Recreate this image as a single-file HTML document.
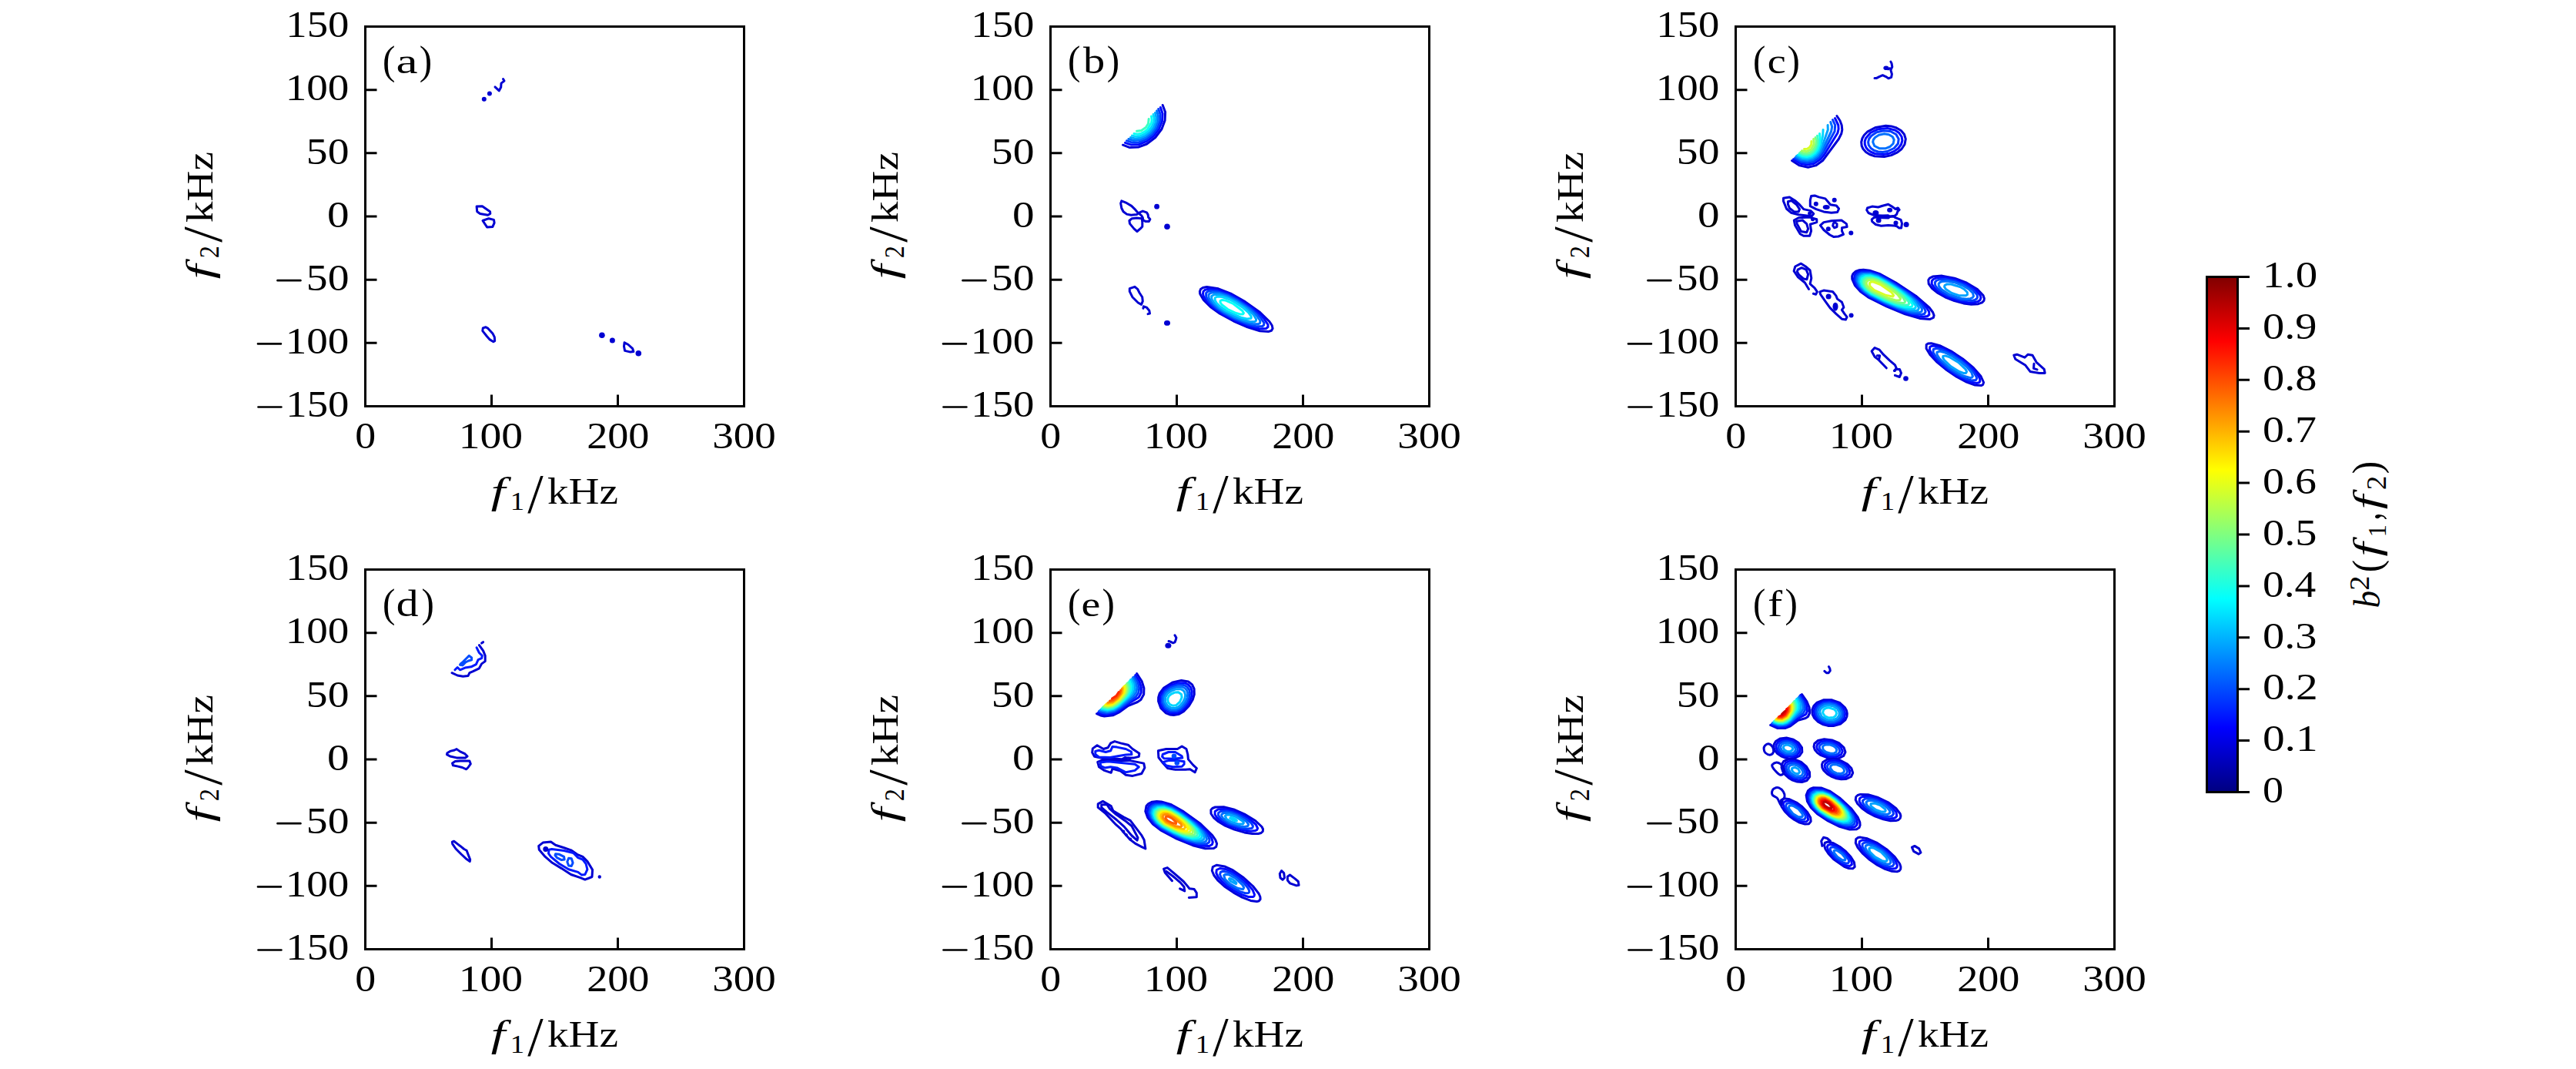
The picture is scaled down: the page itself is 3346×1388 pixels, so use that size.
<!DOCTYPE html><html><head><meta charset="utf-8"><style>html,body{margin:0;padding:0;background:#fff;overflow:hidden;}svg{display:block;}text{font-family:"Liberation Serif",serif;fill:#000;}</style></head><body>
<svg width="3346" height="1388" viewBox="0 0 3346 1388">
<defs><linearGradient id="jet" x1="0" y1="1" x2="0" y2="0"><stop offset="0" stop-color="#000080"/><stop offset="0.125" stop-color="#0000ff"/><stop offset="0.375" stop-color="#00ffff"/><stop offset="0.625" stop-color="#ffff00"/><stop offset="0.875" stop-color="#ff0000"/><stop offset="1" stop-color="#800000"/></linearGradient></defs>
<rect width="100%" height="100%" fill="#fff"/>
<g fill="none" stroke-width="3.0" stroke-linejoin="round" stroke-linecap="round"><path d="M1510.2,136.5L1513.6,145.5L1513.1,156.5L1509.0,167.5L1500.7,178.5L1489.5,187.0L1478.5,191.1L1467.5,191.6L1458.5,188.2" stroke="#0000d6"/><path d="M1507.4,139.5L1510.1,147.5L1509.5,157.5L1505.4,167.5L1498.5,176.5L1489.5,183.4L1479.5,187.5L1469.5,188.1L1461.5,185.4" stroke="#000aff"/><path d="M1504.7,141.5L1507.1,148.5L1506.7,157.5L1503.1,166.5L1497.0,174.5L1488.5,181.1L1479.5,184.7L1470.5,185.1L1463.5,182.7" stroke="#003dff"/><path d="M1502.5,143.9L1504.5,150.5L1504.0,157.5L1500.9,165.5L1495.5,172.8L1488.5,178.4L1480.5,181.8L1472.5,182.5L1465.9,180.5" stroke="#0070ff"/><path d="M1500.5,146.5L1501.9,152.5L1501.3,158.5L1498.3,165.5L1493.6,171.5L1487.5,176.3L1480.5,179.3L1474.5,179.9L1468.5,178.5" stroke="#00a3ff"/><path d="M1498.1,148.5L1499.2,153.5L1498.7,158.5L1496.2,164.5L1492.4,169.5L1487.5,173.6L1481.5,176.4L1475.5,177.2L1470.5,176.1" stroke="#00d6ff"/><path d="M1495.5,151.0L1496.2,155.5L1495.5,159.5L1490.5,167.8L1486.5,171.1L1481.5,173.5L1477.5,174.2L1473.0,173.5" stroke="#0afff5"/><path d="M1492.2,154.5L1491.5,160.5L1488.3,165.5L1482.5,169.5L1476.5,170.2" stroke="#3dffc2"/><path d="M1647.5,430.6L1636.5,429.7L1620.5,424.8L1602.5,417.0L1584.5,407.3L1572.3,398.5L1563.3,389.5L1558.7,381.5L1558.4,378.5L1559.5,375.5L1562.5,373.4L1567.5,372.5L1582.5,374.8L1598.5,381.1L1617.5,391.9L1636.6,405.5L1648.9,417.5L1652.2,422.5L1653.1,426.5L1651.5,429.3L1647.5,430.6Z" stroke="#0000d6"/><path d="M1644.5,426.6L1636.5,427.0L1623.5,423.8L1606.5,417.1L1588.5,407.8L1576.5,399.7L1567.8,391.5L1563.2,384.5L1562.5,381.5L1563.0,378.5L1565.0,376.5L1568.5,375.3L1579.5,376.0L1594.5,381.0L1609.5,388.9L1627.5,400.8L1641.0,412.5L1647.0,421.5L1647.0,424.5L1644.5,426.6Z" stroke="#000aff"/><path d="M1639.5,423.7L1631.5,423.8L1619.5,420.7L1604.5,414.6L1589.5,406.8L1578.8,399.5L1571.2,392.5L1566.7,385.5L1566.6,380.5L1568.5,378.6L1571.5,377.6L1581.5,378.3L1594.5,382.6L1608.5,389.9L1625.8,401.5L1637.0,411.5L1642.0,419.5L1641.5,422.3L1639.5,423.7Z" stroke="#003dff"/><path d="M1634.5,420.8L1627.5,420.8L1616.5,417.9L1603.5,412.6L1590.0,405.5L1581.2,399.5L1573.7,392.5L1570.0,386.5L1570.0,382.5L1571.5,380.9L1574.5,379.8L1583.5,380.5L1594.5,384.1L1606.8,390.5L1621.9,400.5L1632.2,409.5L1636.9,416.5L1636.6,419.5L1634.5,420.8Z" stroke="#0070ff"/><path d="M1629.5,417.7L1623.5,417.7L1614.5,415.3L1602.6,410.5L1591.1,404.5L1583.7,399.5L1577.2,393.5L1573.9,388.5L1573.7,384.5L1577.5,382.2L1584.5,382.6L1593.8,385.5L1605.6,391.5L1619.1,400.5L1628.1,408.5L1631.7,414.5L1631.4,416.5L1629.5,417.7Z" stroke="#00a3ff"/><path d="M1624.5,413.6L1620.5,414.1L1612.8,412.5L1592.8,403.5L1585.5,398.5L1580.3,393.5L1578.0,389.5L1578.3,386.5L1581.5,385.0L1587.6,385.5L1596.3,388.5L1603.9,392.5L1614.6,399.5L1621.5,405.5L1625.1,410.5L1625.3,412.5L1624.5,413.6Z" stroke="#00d6ff"/><path d="M1614.5,408.0L1611.5,408.1L1605.5,406.5L1594.7,401.5L1586.9,395.5L1585.0,392.5L1585.1,390.5L1587.5,389.4L1591.5,389.9L1602.0,394.5L1613.7,403.5L1615.5,406.5L1614.5,408.0Z" stroke="#0afff5"/><path d="M2385.9,150.5L2389.9,156.5L2392.2,162.5L2392.8,168.5L2391.8,173.5L2388.3,180.5L2367.5,208.6L2358.5,214.9L2348.5,217.2L2337.5,214.9L2327.5,208.5" stroke="#0000d6"/><path d="M2383.5,153.5L2387.8,162.5L2388.1,167.5L2387.0,172.5L2369.8,200.5L2364.9,206.5L2356.5,212.2L2347.5,214.0L2338.5,212.2L2329.5,206.8" stroke="#000aff"/><path d="M2380.5,155.5L2383.7,162.5L2383.1,170.5L2368.4,197.5L2363.2,204.5L2355.5,209.8L2347.5,211.5L2339.5,210.2L2331.3,205.5" stroke="#003dff"/><path d="M2377.8,158.5L2379.7,164.5L2378.6,170.5L2366.9,195.5L2361.5,202.9L2354.5,207.7L2347.5,209.3L2339.5,208.0L2332.5,204.0" stroke="#0070ff"/><path d="M2374.1,162.5L2374.3,168.5L2367.1,189.5L2363.8,196.5L2360.0,201.5L2354.3,205.5L2347.5,207.3L2340.5,206.3L2333.5,202.6" stroke="#00a3ff"/><path d="M2368.1,168.5L2367.6,176.5L2365.1,188.5L2362.1,195.5L2358.5,200.1L2353.5,203.7L2347.5,205.3L2341.5,204.7L2335.0,201.5" stroke="#00d6ff"/><path d="M2363.5,173.5L2364.2,179.5L2363.2,187.5L2360.9,193.5L2357.3,198.5L2352.5,202.0L2347.5,203.4L2341.5,202.8L2336.5,200.5" stroke="#0afff5"/><path d="M2360.5,176.2L2361.6,181.5L2361.0,187.5L2358.6,193.5L2355.5,197.4L2351.5,200.2L2346.5,201.5L2341.5,200.9L2337.5,198.9" stroke="#3dffc2"/><path d="M2358.1,178.5L2359.1,182.5L2358.7,187.5L2357.2,191.5L2354.3,195.5L2350.5,198.2L2346.5,199.3L2342.5,199.0L2338.9,197.5" stroke="#70ff8f"/><path d="M2355.7,180.5L2356.1,187.5L2352.5,193.8L2346.5,196.8L2340.5,195.7" stroke="#a3ff5c"/><path d="M2352.9,183.5L2352.8,187.5L2350.5,191.3L2347.5,193.2L2343.5,193.5" stroke="#d6ff29"/><path d="M2447.5,203.5L2434.5,202.7L2428.5,200.5L2423.7,197.5L2420.1,193.5L2418.2,189.5L2417.7,184.5L2419.0,179.5L2421.3,175.5L2425.5,171.2L2436.5,165.4L2449.5,163.3L2456.5,163.9L2462.5,165.6L2469.3,169.5L2473.5,174.5L2475.3,180.5L2474.0,187.5L2470.0,193.5L2464.5,197.9L2456.5,201.6L2447.5,203.5Z" stroke="#0000d6"/><path d="M2446.5,200.5L2435.5,199.5L2430.5,197.5L2426.5,194.7L2423.8,191.5L2422.3,187.5L2422.2,183.5L2423.5,179.5L2429.5,172.5L2439.5,167.7L2451.5,166.5L2461.5,169.0L2466.7,172.5L2470.1,177.5L2470.9,182.5L2469.5,187.5L2465.8,192.5L2460.5,196.4L2453.5,199.3L2446.5,200.5Z" stroke="#000aff"/><path d="M2451.5,196.5L2445.5,197.4L2439.5,197.0L2434.5,195.4L2430.1,192.5L2427.3,188.5L2426.6,184.5L2427.6,180.5L2430.5,176.5L2437.5,171.8L2446.5,169.7L2455.5,170.5L2462.9,174.5L2466.2,180.5L2465.4,186.5L2460.2,192.5L2451.5,196.5Z" stroke="#003dff"/><path d="M2449.5,192.7L2441.5,192.8L2434.8,189.5L2432.7,184.5L2433.3,181.5L2435.5,178.5L2440.5,175.3L2447.5,173.8L2453.5,174.7L2458.2,177.5L2460.2,181.5L2459.1,186.5L2454.9,190.5L2449.5,192.7Z" stroke="#0070ff"/><path d="M2506.5,414.6L2493.5,413.4L2474.5,407.8L2450.5,397.9L2426.5,385.8L2416.5,378.5L2409.3,370.5L2405.8,362.5L2405.7,358.5L2406.9,355.5L2410.1,352.5L2414.5,350.8L2420.5,350.2L2428.5,351.2L2442.5,356.0L2462.5,367.0L2488.5,384.2L2506.1,399.5L2510.6,405.5L2512.1,409.5L2511.3,412.5L2506.5,414.6Z" stroke="#0000d6"/><path d="M2503.5,410.6L2498.5,411.3L2492.5,410.8L2474.5,406.0L2452.5,397.3L2429.5,386.0L2419.5,379.2L2412.1,371.5L2408.3,363.5L2409.0,357.5L2411.5,354.6L2414.5,353.1L2419.5,352.1L2425.5,352.3L2438.5,355.7L2452.5,362.9L2478.5,379.0L2496.8,393.5L2502.4,399.5L2505.6,404.5L2505.9,408.5L2503.5,410.6Z" stroke="#000aff"/><path d="M2495.5,408.5L2483.5,407.0L2467.5,402.1L2448.5,394.2L2428.5,384.1L2419.4,377.5L2413.2,370.5L2410.3,363.5L2411.1,358.5L2413.5,355.8L2417.5,354.1L2428.5,354.0L2440.5,357.8L2457.5,367.0L2480.5,382.1L2496.0,395.5L2499.8,400.5L2501.2,404.5L2499.6,407.5L2495.5,408.5Z" stroke="#003dff"/><path d="M2493.5,405.7L2483.5,405.3L2468.5,401.1L2450.5,393.9L2429.5,383.5L2421.5,377.9L2415.5,371.5L2412.3,364.5L2412.9,359.5L2415.5,356.7L2418.5,355.4L2428.5,355.2L2439.5,358.5L2453.5,365.9L2474.8,379.5L2489.6,391.5L2494.8,397.5L2496.7,401.5L2496.0,404.5L2493.5,405.7Z" stroke="#0070ff"/><path d="M2488.5,403.6L2478.5,402.6L2464.5,398.4L2447.5,391.4L2429.7,382.5L2422.6,377.5L2417.0,371.5L2414.1,365.5L2414.6,360.5L2416.5,358.3L2420.4,356.5L2429.5,356.5L2439.5,359.5L2453.5,367.0L2472.9,379.5L2487.3,391.5L2492.5,399.5L2491.5,402.5L2488.5,403.6Z" stroke="#00a3ff"/><path d="M2486.5,400.8L2478.5,400.9L2465.5,397.5L2448.5,390.8L2430.5,381.9L2423.5,376.9L2418.5,371.5L2415.8,365.5L2416.5,361.1L2418.5,359.0L2421.5,357.8L2429.5,357.6L2438.5,360.2L2450.5,366.4L2468.2,377.5L2482.0,388.5L2488.1,396.5L2488.2,399.5L2486.5,400.8Z" stroke="#00d6ff"/><path d="M2481.5,398.7L2473.5,398.3L2460.5,394.5L2445.8,388.5L2430.5,380.8L2423.5,375.5L2419.3,370.5L2417.5,365.5L2418.5,361.6L2423.5,358.8L2431.5,359.1L2439.5,361.6L2452.2,368.5L2467.6,378.5L2479.6,388.5L2484.2,395.5L2483.8,397.5L2481.5,398.7Z" stroke="#0afff5"/><path d="M2478.5,395.8L2472.5,396.2L2461.4,393.5L2448.4,388.5L2432.0,380.5L2426.2,376.5L2421.6,371.5L2419.7,367.5L2419.8,363.5L2423.4,360.5L2429.5,360.0L2436.5,361.6L2444.8,365.5L2461.3,375.5L2473.0,384.5L2479.1,391.5L2479.7,394.5L2478.5,395.8Z" stroke="#3dffc2"/><path d="M2471.5,393.6L2463.5,392.5L2454.5,389.6L2432.5,379.5L2427.0,375.5L2423.4,371.5L2421.6,367.5L2421.9,364.5L2425.5,361.8L2432.5,361.7L2439.5,364.0L2449.5,369.5L2461.8,377.5L2471.3,385.5L2474.8,391.5L2473.5,393.2L2471.5,393.6Z" stroke="#70ff8f"/><path d="M2467.5,389.8L2462.5,389.9L2453.6,387.5L2433.6,378.5L2429.2,375.5L2425.6,371.5L2424.2,368.5L2424.6,365.5L2427.5,363.5L2432.5,363.4L2438.5,365.1L2445.0,368.5L2456.2,375.5L2465.0,382.5L2468.7,387.5L2467.5,389.8Z" stroke="#a3ff5c"/><path d="M2458.5,384.9L2450.0,383.5L2434.3,376.5L2428.9,371.5L2428.4,367.5L2430.5,366.1L2433.5,366.0L2442.6,369.5L2456.9,379.5L2459.7,383.5L2458.5,384.9Z" stroke="#d6ff29"/><path d="M2569.5,394.7L2560.5,395.2L2550.5,393.9L2538.5,390.6L2526.5,385.8L2517.1,380.5L2509.6,374.5L2505.2,368.5L2504.8,363.5L2506.5,361.1L2510.5,359.1L2522.5,358.1L2538.5,361.1L2554.5,367.2L2568.4,375.5L2576.0,383.5L2577.4,387.5L2576.9,390.5L2574.5,392.9L2569.5,394.7Z" stroke="#0000d6"/><path d="M2565.5,392.6L2557.5,392.9L2548.5,391.6L2537.5,388.5L2527.5,384.3L2518.5,379.0L2512.2,373.5L2509.1,368.5L2509.4,364.5L2511.5,362.4L2515.5,360.8L2526.5,360.5L2540.5,363.5L2554.5,369.2L2566.1,376.5L2572.2,383.5L2573.0,386.5L2572.0,389.5L2569.2,391.5L2565.5,392.6Z" stroke="#000aff"/><path d="M2561.5,390.5L2547.3,389.5L2529.5,383.4L2522.7,379.5L2516.5,374.5L2513.7,370.5L2513.4,366.5L2515.1,364.5L2518.5,363.0L2527.5,362.6L2540.5,365.3L2552.5,370.1L2562.6,376.5L2567.9,382.5L2568.6,385.5L2567.9,387.5L2565.3,389.5L2561.5,390.5Z" stroke="#003dff"/><path d="M2559.5,387.7L2554.5,388.2L2547.5,387.5L2532.2,382.5L2521.4,375.5L2518.4,371.5L2518.1,368.5L2519.8,366.5L2522.1,365.5L2529.5,365.1L2538.5,366.7L2548.9,370.5L2557.4,375.5L2562.5,380.5L2563.5,384.5L2562.1,386.5L2559.5,387.7Z" stroke="#0070ff"/><path d="M2553.5,383.8L2544.5,383.7L2535.0,380.5L2527.5,375.5L2525.6,372.5L2526.0,370.5L2528.5,369.1L2533.5,368.9L2546.0,372.5L2551.3,375.5L2555.3,379.5L2555.5,382.5L2553.5,383.8Z" stroke="#00a3ff"/><path d="M2573.5,500.6L2565.5,500.1L2554.5,496.1L2541.5,489.2L2527.5,479.7L2515.3,469.5L2506.9,460.5L2502.1,452.5L2502.2,447.5L2504.5,446.0L2508.5,445.7L2519.5,448.7L2534.5,456.1L2549.5,466.0L2563.3,477.5L2573.0,488.5L2576.6,496.5L2575.6,499.5L2573.5,500.6Z" stroke="#0000d6"/><path d="M2567.5,497.5L2559.5,496.0L2549.5,491.8L2538.5,485.6L2527.5,477.8L2517.7,469.5L2510.4,461.5L2506.5,454.5L2506.8,450.5L2508.5,449.4L2512.5,449.1L2523.5,452.4L2536.5,459.1L2550.5,468.6L2562.9,479.5L2570.1,488.5L2571.8,492.5L2571.7,495.5L2570.5,496.8L2567.5,497.5Z" stroke="#000aff"/><path d="M2566.5,493.5L2561.5,494.1L2552.8,491.5L2542.9,486.5L2532.1,479.5L2522.2,471.5L2514.6,463.5L2511.0,457.5L2511.3,453.5L2515.5,452.3L2523.9,454.5L2534.5,459.6L2546.5,467.4L2556.4,475.5L2563.9,483.5L2567.3,489.5L2567.6,491.5L2566.5,493.5Z" stroke="#003dff"/><path d="M2559.5,490.6L2548.5,487.5L2532.1,477.5L2519.2,465.5L2516.1,460.5L2515.9,457.5L2519.5,456.1L2526.5,457.8L2536.1,462.5L2546.6,469.5L2554.8,476.5L2560.8,483.5L2562.5,488.5L2561.5,490.0L2559.5,490.6Z" stroke="#0070ff"/><path d="M2553.5,484.6L2550.3,484.5L2544.9,482.5L2533.7,475.5L2525.4,467.5L2523.7,464.5L2523.8,462.5L2526.5,461.9L2532.0,463.5L2543.7,470.5L2553.1,479.5L2554.6,482.5L2553.5,484.6Z" stroke="#00a3ff"/><path d="M1476.6,874.5L1483.1,884.5L1485.9,893.5L1485.7,901.5L1481.9,908.5L1477.5,911.5L1465.5,916.4L1453.5,925.0L1445.5,928.8L1434.5,930.0L1429.5,929.0L1424.5,926.7" stroke="#0000d6"/><path d="M1474.8,876.5L1479.9,884.5L1482.4,892.5L1482.3,899.5L1479.1,905.5L1464.5,914.3L1452.5,923.3L1446.5,926.2L1436.5,927.9L1431.5,927.2L1426.5,925.2" stroke="#000aff"/><path d="M1473.5,878.5L1478.1,886.5L1479.7,893.5L1478.8,899.5L1475.5,904.4L1453.5,920.7L1447.5,924.1L1437.5,926.2L1432.5,925.6L1427.5,923.6" stroke="#003dff"/><path d="M1471.6,879.5L1475.1,885.5L1476.9,892.5L1476.0,898.5L1472.5,903.5L1454.1,918.5L1447.5,922.5L1437.5,924.7L1428.7,922.5" stroke="#0070ff"/><path d="M1470.4,881.5L1473.4,887.5L1474.3,893.5L1473.0,898.5L1469.3,903.5L1454.5,916.6L1447.5,921.2L1438.5,923.3L1429.9,921.5" stroke="#00a3ff"/><path d="M1468.5,882.5L1471.3,888.5L1471.6,894.5L1469.8,899.5L1464.9,905.5L1453.5,916.0L1446.5,920.3L1438.5,922.1L1430.9,920.5" stroke="#00d6ff"/><path d="M1467.2,884.5L1469.3,890.5L1468.8,896.5L1465.5,902.5L1459.0,909.5L1451.5,916.2L1445.5,919.5L1438.5,920.9L1431.7,919.5" stroke="#0afff5"/><path d="M1465.5,886.1L1467.2,891.5L1466.4,897.5L1462.9,903.5L1456.5,910.5L1450.5,915.6L1444.5,918.7L1438.5,919.8L1432.5,918.5" stroke="#3dffc2"/><path d="M1463.8,887.5L1465.3,892.5L1464.6,897.5L1462.1,902.5L1456.0,909.5L1450.2,914.5L1444.5,917.6L1438.5,918.6L1433.5,917.6" stroke="#70ff8f"/><path d="M1462.5,889.3L1463.5,893.5L1462.7,898.5L1459.8,903.5L1454.5,909.5L1449.5,913.7L1444.5,916.4L1439.5,917.4L1434.5,916.7" stroke="#a3ff5c"/><path d="M1461.1,890.5L1461.9,894.5L1460.7,899.5L1453.5,909.0L1444.5,915.2L1439.5,916.3L1435.5,915.7" stroke="#d6ff29"/><path d="M1459.8,891.5L1460.3,895.5L1459.3,899.5L1453.5,907.5L1444.5,914.0L1440.5,915.0L1436.5,914.7" stroke="#fff500"/><path d="M1458.5,892.9L1457.8,899.5L1452.5,906.9L1444.8,912.5L1437.9,913.5" stroke="#ffc200"/><path d="M1457.2,894.5L1455.8,900.5L1451.5,906.2L1445.5,910.7L1439.5,912.1" stroke="#ff8f00"/><path d="M1455.5,896.5L1454.2,900.5L1450.5,905.2L1446.2,908.5L1441.5,910.2" stroke="#ff5c00"/><path d="M1453.2,898.5L1449.9,903.5L1444.5,907.1" stroke="#ff2900"/><path d="M1524.5,928.5L1519.5,927.9L1514.5,925.8L1507.8,919.5L1504.6,910.5L1504.7,905.5L1506.2,900.5L1511.5,893.3L1523.5,885.9L1534.5,883.4L1543.5,885.0L1548.5,888.9L1551.1,894.5L1551.3,901.5L1549.2,908.5L1544.4,916.5L1537.5,923.7L1531.5,927.2L1524.5,928.5Z" stroke="#0000d6"/><path d="M1529.5,925.5L1520.5,925.8L1512.4,921.5L1509.2,917.5L1507.5,913.5L1507.2,904.5L1511.5,896.5L1519.5,890.5L1529.5,886.7L1538.5,886.7L1543.5,888.9L1546.7,892.5L1548.3,897.5L1548.0,903.5L1545.4,910.5L1541.4,916.5L1535.4,922.5L1529.5,925.5Z" stroke="#000aff"/><path d="M1528.5,923.6L1520.5,923.6L1513.5,919.7L1509.4,912.5L1509.4,904.5L1513.3,897.5L1520.5,892.4L1529.5,889.1L1537.5,889.4L1541.7,891.5L1544.7,895.5L1545.7,900.5L1544.9,905.5L1542.3,911.5L1538.5,916.7L1533.5,921.3L1528.5,923.6Z" stroke="#003dff"/><path d="M1527.5,921.7L1520.5,921.5L1514.5,917.7L1511.3,911.5L1511.5,904.5L1514.5,899.3L1521.5,894.3L1528.5,891.8L1535.5,891.9L1539.1,893.5L1541.7,896.5L1542.8,900.5L1542.3,905.5L1540.3,910.5L1536.5,915.7L1532.5,919.5L1527.5,921.7Z" stroke="#0070ff"/><path d="M1526.5,919.5L1521.5,919.3L1516.5,916.4L1513.7,911.5L1513.7,905.5L1516.5,900.6L1521.5,897.0L1527.5,894.7L1533.5,894.7L1536.5,896.1L1538.6,898.5L1539.7,902.5L1539.1,906.5L1536.7,911.5L1533.5,915.5L1530.5,918.0L1526.5,919.5Z" stroke="#00a3ff"/><path d="M1527.5,915.8L1523.5,916.3L1519.5,914.6L1517.2,911.5L1516.7,907.5L1518.4,903.5L1521.5,901.0L1526.5,898.9L1530.5,898.7L1534.5,901.5L1535.1,905.5L1532.5,911.5L1527.5,915.8Z" stroke="#00d6ff"/><path d="M1576.5,1101.6L1565.5,1101.8L1549.5,1097.7L1528.5,1089.1L1507.5,1077.9L1497.5,1070.1L1490.7,1061.5L1487.8,1053.5L1489.0,1046.5L1491.7,1043.5L1496.5,1041.2L1502.5,1040.4L1508.5,1040.9L1521.5,1044.8L1537.5,1053.9L1559.5,1069.7L1574.7,1084.5L1578.8,1090.5L1580.6,1095.5L1579.7,1099.5L1576.5,1101.6Z" stroke="#0000d6"/><path d="M1570.5,1098.6L1559.5,1098.2L1544.5,1094.0L1525.5,1085.9L1507.5,1076.1L1499.3,1069.5L1493.0,1061.5L1490.4,1053.5L1491.8,1047.5L1494.5,1044.9L1498.5,1043.1L1504.5,1042.4L1510.5,1043.0L1522.5,1047.0L1537.5,1055.8L1557.6,1070.5L1570.6,1083.5L1573.9,1088.5L1575.3,1093.5L1574.4,1096.5L1570.5,1098.6Z" stroke="#000aff"/><path d="M1567.5,1095.7L1557.5,1095.8L1543.5,1092.1L1526.5,1085.0L1508.5,1075.2L1500.2,1068.5L1494.8,1061.5L1492.5,1054.5L1494.0,1048.5L1496.5,1046.1L1500.5,1044.5L1510.5,1044.4L1521.5,1047.9L1535.5,1056.0L1554.1,1069.5L1566.3,1081.5L1569.7,1086.5L1571.1,1090.5L1570.5,1093.6L1567.5,1095.7Z" stroke="#003dff"/><path d="M1563.5,1093.7L1554.5,1093.5L1541.5,1090.0L1524.5,1082.8L1508.5,1074.0L1501.5,1068.2L1496.4,1061.5L1494.2,1054.5L1495.7,1049.5L1497.7,1047.5L1501.5,1045.9L1511.5,1045.8L1521.5,1049.1L1535.5,1057.3L1552.1,1069.5L1563.2,1080.5L1566.4,1085.5L1567.5,1089.5L1566.5,1092.1L1563.5,1093.7Z" stroke="#0070ff"/><path d="M1560.5,1091.7L1551.5,1091.4L1539.5,1088.0L1524.5,1081.7L1509.5,1073.5L1502.2,1067.5L1497.8,1061.5L1495.9,1055.5L1497.2,1050.5L1499.5,1048.3L1503.5,1046.9L1512.5,1047.1L1521.5,1050.1L1534.5,1057.8L1550.3,1069.5L1560.3,1079.5L1562.9,1083.5L1564.2,1087.5L1563.5,1089.9L1560.5,1091.7Z" stroke="#00a3ff"/><path d="M1558.5,1089.5L1550.5,1089.7L1539.5,1086.9L1525.5,1081.1L1510.5,1073.1L1503.6,1067.5L1499.1,1061.5L1497.4,1055.5L1498.5,1051.5L1503.5,1048.2L1511.5,1048.0L1520.5,1050.7L1531.5,1056.9L1546.3,1067.5L1556.7,1077.5L1561.1,1085.5L1560.5,1088.1L1558.5,1089.5Z" stroke="#00d6ff"/><path d="M1555.5,1087.8L1548.5,1088.0L1537.5,1085.1L1524.5,1079.7L1511.5,1072.7L1505.5,1068.1L1500.9,1062.5L1499.0,1057.5L1499.8,1052.5L1504.5,1049.3L1512.5,1049.1L1520.5,1051.6L1530.5,1057.3L1544.7,1067.5L1554.1,1076.5L1558.1,1083.5L1557.6,1086.5L1555.5,1087.8Z" stroke="#0afff5"/><path d="M1553.5,1085.8L1547.5,1086.4L1537.5,1084.0L1525.5,1079.2L1512.5,1072.3L1506.2,1067.5L1502.1,1062.5L1500.3,1057.5L1501.0,1053.5L1504.8,1050.5L1511.5,1050.0L1519.5,1052.1L1527.6,1056.5L1540.7,1065.5L1550.6,1074.5L1555.1,1081.5L1555.0,1084.5L1553.5,1085.8Z" stroke="#3dffc2"/><path d="M1549.5,1084.5L1543.5,1084.3L1534.5,1081.9L1512.5,1071.4L1507.4,1067.5L1503.4,1062.5L1501.7,1057.5L1502.5,1054.1L1506.5,1051.3L1513.5,1051.2L1520.6,1053.5L1530.5,1059.3L1541.6,1067.5L1549.7,1075.5L1552.5,1081.5L1551.7,1083.5L1549.5,1084.5Z" stroke="#70ff8f"/><path d="M1547.5,1082.5L1541.5,1082.6L1533.5,1080.4L1512.7,1070.5L1507.7,1066.5L1504.6,1062.5L1503.2,1058.5L1504.1,1054.5L1508.5,1052.1L1514.5,1052.4L1520.7,1054.5L1529.2,1059.5L1540.1,1067.5L1547.0,1074.5L1549.6,1079.5L1549.1,1081.5L1547.5,1082.5Z" stroke="#a3ff5c"/><path d="M1544.5,1080.7L1539.5,1080.8L1531.5,1078.6L1512.8,1069.5L1505.9,1062.5L1504.6,1058.5L1505.4,1055.5L1508.5,1053.5L1514.5,1053.4L1520.5,1055.4L1527.6,1059.5L1537.2,1066.5L1544.3,1073.5L1546.6,1078.5L1544.5,1080.7Z" stroke="#d6ff29"/><path d="M1541.5,1078.7L1537.5,1078.8L1531.5,1077.4L1514.5,1069.5L1510.5,1066.5L1507.3,1062.5L1506.3,1059.5L1506.9,1056.5L1510.2,1054.5L1514.6,1054.5L1520.5,1056.4L1527.3,1060.5L1535.5,1066.5L1541.4,1072.5L1543.3,1076.5L1541.5,1078.7Z" stroke="#fff500"/><path d="M1537.5,1076.6L1527.5,1074.6L1514.5,1068.2L1508.9,1062.5L1508.0,1059.5L1508.6,1057.5L1511.5,1055.8L1515.5,1055.9L1520.2,1057.5L1526.9,1061.5L1533.5,1066.5L1538.3,1071.5L1539.6,1074.5L1537.5,1076.6Z" stroke="#ffc200"/><path d="M1533.5,1073.8L1526.3,1072.5L1514.5,1066.6L1510.8,1062.5L1510.3,1060.5L1511.0,1058.5L1513.5,1057.4L1516.5,1057.6L1524.4,1061.5L1533.8,1069.5L1535.1,1072.5L1533.5,1073.8Z" stroke="#ff8f00"/><path d="M1527.5,1069.5L1522.5,1068.5L1516.4,1065.5L1513.9,1062.5L1514.2,1060.5L1517.5,1060.1L1522.2,1062.5L1527.8,1067.5L1527.5,1069.5Z" stroke="#ff5c00"/><path d="M1634.5,1082.5L1626.5,1082.6L1616.5,1080.9L1603.5,1077.1L1591.5,1072.2L1582.5,1066.8L1576.4,1061.5L1573.0,1056.5L1572.9,1051.5L1574.8,1049.5L1578.5,1048.0L1589.5,1047.8L1602.5,1051.0L1616.5,1057.1L1630.5,1065.5L1639.0,1073.5L1640.5,1076.5L1640.3,1079.5L1638.1,1081.5L1634.5,1082.5Z" stroke="#0000d6"/><path d="M1630.5,1078.6L1624.5,1079.3L1615.5,1078.1L1594.5,1071.2L1586.4,1066.5L1580.6,1061.5L1578.1,1057.5L1578.2,1053.5L1582.5,1050.8L1590.5,1050.5L1600.5,1052.7L1611.5,1057.2L1622.9,1063.5L1631.3,1070.5L1633.6,1075.5L1632.6,1077.5L1630.5,1078.6Z" stroke="#000aff"/><path d="M1625.5,1075.6L1620.5,1076.3L1613.5,1075.5L1595.5,1069.6L1585.1,1062.5L1582.5,1058.5L1582.6,1055.5L1585.5,1053.4L1592.5,1053.0L1600.5,1054.7L1609.5,1058.3L1618.9,1063.5L1625.1,1068.5L1627.5,1072.5L1627.0,1074.5L1625.5,1075.6Z" stroke="#003dff"/><path d="M1620.5,1072.7L1616.5,1073.4L1611.5,1072.9L1597.5,1068.5L1588.6,1062.5L1586.7,1059.5L1586.7,1057.5L1589.5,1055.5L1593.5,1055.2L1599.5,1056.3L1606.5,1058.9L1618.9,1066.5L1621.7,1070.5L1620.5,1072.7Z" stroke="#0070ff"/><path d="M1614.5,1069.9L1608.5,1070.0L1599.5,1067.3L1593.2,1063.5L1591.2,1059.5L1592.5,1058.2L1596.5,1057.8L1605.4,1060.5L1614.5,1066.5L1615.5,1068.5L1614.5,1069.9Z" stroke="#00a3ff"/><path d="M1606.5,1065.7L1602.3,1065.5L1597.7,1062.5L1598.5,1061.4L1601.5,1061.8L1605.0,1063.5L1606.5,1065.7Z" stroke="#00d6ff"/><path d="M1632.5,1170.6L1624.5,1169.4L1613.5,1165.1L1602.5,1159.1L1590.5,1151.0L1582.2,1143.5L1576.8,1136.5L1574.3,1130.5L1575.3,1125.5L1580.5,1123.2L1590.5,1124.9L1601.5,1129.9L1614.5,1138.9L1627.4,1150.5L1635.2,1160.5L1636.9,1164.5L1637.1,1167.5L1635.5,1169.7L1632.5,1170.6Z" stroke="#0000d6"/><path d="M1627.5,1164.6L1621.5,1164.5L1613.5,1161.8L1603.5,1156.7L1593.5,1150.2L1587.0,1144.5L1582.1,1138.5L1579.8,1133.5L1580.3,1129.5L1584.5,1127.5L1591.5,1128.4L1600.5,1132.3L1609.5,1138.3L1620.3,1147.5L1627.1,1155.5L1629.5,1161.5L1629.0,1163.5L1627.5,1164.6Z" stroke="#000aff"/><path d="M1621.5,1159.5L1617.5,1159.8L1610.5,1157.6L1595.0,1148.5L1586.3,1139.5L1584.6,1135.5L1585.3,1132.5L1588.5,1131.2L1594.5,1132.2L1600.5,1134.9L1607.4,1139.5L1615.6,1146.5L1620.7,1152.5L1622.7,1156.5L1622.6,1158.5L1621.5,1159.5Z" stroke="#003dff"/><path d="M1614.5,1154.7L1607.5,1153.2L1597.5,1147.5L1591.2,1141.5L1589.7,1136.5L1591.5,1135.2L1595.5,1135.5L1604.9,1140.5L1614.3,1149.5L1615.7,1152.5L1614.5,1154.7Z" stroke="#0070ff"/><path d="M1605.5,1147.6L1598.8,1144.5L1596.5,1141.5L1597.0,1140.5L1599.5,1140.9L1603.5,1143.5L1606.0,1146.5L1605.5,1147.6Z" stroke="#00a3ff"/><path d="M2340.5,901.5L2346.8,910.5L2350.1,918.5L2350.7,925.5L2348.4,930.5L2345.3,932.5L2335.5,935.3L2325.5,942.8L2318.5,945.6L2308.5,945.4L2299.6,941.5" stroke="#0000d6"/><path d="M2338.7,902.5L2344.2,910.5L2347.1,917.5L2347.5,923.5L2345.5,927.7L2334.5,933.1L2325.5,940.6L2319.5,943.5L2310.5,944.1L2301.1,940.5" stroke="#000aff"/><path d="M2337.5,903.9L2342.0,910.5L2344.4,916.5L2344.7,921.5L2342.5,925.9L2333.5,931.5L2324.5,939.5L2319.5,942.0L2310.5,942.7L2302.0,939.5" stroke="#003dff"/><path d="M2336.5,905.3L2340.4,911.5L2342.0,916.5L2342.0,920.5L2339.8,924.5L2324.5,937.9L2319.5,940.7L2311.5,941.6L2302.5,938.5" stroke="#0070ff"/><path d="M2335.2,906.5L2339.3,914.5L2339.1,920.5L2337.3,923.5L2326.5,934.6L2321.5,938.6L2315.5,940.5L2309.5,940.3L2303.5,938.0" stroke="#00a3ff"/><path d="M2333.7,907.5L2336.7,913.5L2336.8,919.5L2334.6,923.5L2325.5,934.2L2320.5,938.0L2315.5,939.5L2309.5,939.3L2304.5,937.5" stroke="#00d6ff"/><path d="M2332.5,909.4L2334.7,915.5L2334.1,920.5L2324.5,933.8L2320.5,936.9L2315.5,938.6L2309.5,938.4L2304.5,936.5" stroke="#0afff5"/><path d="M2330.8,910.5L2332.6,915.5L2332.3,920.5L2329.1,926.5L2323.5,933.5L2319.5,936.4L2315.5,937.7L2310.5,937.7L2305.5,936.1" stroke="#3dffc2"/><path d="M2329.5,911.9L2331.0,916.5L2330.7,920.5L2327.8,926.5L2323.2,932.5L2319.5,935.4L2315.5,936.8L2310.5,936.9L2306.1,935.5" stroke="#70ff8f"/><path d="M2328.5,913.3L2329.6,917.5L2329.1,921.5L2326.7,926.5L2322.5,932.0L2315.5,936.0L2310.5,936.0L2306.5,934.8" stroke="#a3ff5c"/><path d="M2327.5,914.4L2328.3,918.5L2327.5,922.5L2321.8,931.5L2315.5,935.1L2311.5,935.3L2307.5,934.4" stroke="#d6ff29"/><path d="M2326.5,915.4L2327.0,918.5L2326.4,922.5L2323.8,927.5L2320.5,931.5L2314.5,934.4L2307.5,933.5" stroke="#fff500"/><path d="M2325.5,916.2L2325.2,922.5L2320.5,930.2L2314.5,933.5L2308.5,933.0" stroke="#ffc200"/><path d="M2324.5,917.2L2323.8,923.5L2319.9,929.5L2314.7,932.5L2309.5,932.4" stroke="#ff8f00"/><path d="M2323.5,918.5L2322.6,923.5L2319.5,928.5L2314.5,931.5L2310.0,931.5" stroke="#ff5c00"/><path d="M2322.3,919.5L2321.4,923.5L2318.5,927.9L2314.5,930.4L2310.5,930.5" stroke="#ff2900"/><path d="M2320.9,920.5L2318.1,926.5L2315.5,928.6L2312.5,929.4" stroke="#f50000"/><path d="M2318.4,923.5L2314.5,927.3" stroke="#c20000"/><path d="M2381.5,942.6L2374.5,942.4L2367.5,940.5L2361.5,937.2L2356.7,932.5L2354.2,927.5L2353.8,921.5L2355.9,916.5L2359.8,912.5L2368.5,908.8L2379.5,908.8L2389.5,912.4L2396.3,918.5L2398.5,922.5L2399.3,926.5L2398.9,930.5L2397.1,934.5L2390.5,940.1L2381.5,942.6Z" stroke="#0000d6"/><path d="M2381.5,940.6L2374.5,940.4L2368.5,938.8L2362.7,935.5L2358.8,931.5L2356.8,927.5L2356.3,922.5L2358.2,917.5L2361.5,914.1L2369.5,910.7L2378.5,910.6L2387.5,913.6L2394.2,919.5L2396.7,926.5L2395.4,932.5L2389.5,938.2L2381.5,940.6Z" stroke="#000aff"/><path d="M2382.5,938.6L2377.5,939.0L2371.5,938.0L2366.5,935.8L2362.3,932.5L2359.6,928.5L2358.6,924.5L2359.3,920.5L2362.0,916.5L2368.5,912.9L2376.5,912.1L2384.5,914.1L2390.7,918.5L2394.1,924.5L2393.7,930.5L2389.5,935.7L2382.5,938.6Z" stroke="#003dff"/><path d="M2382.5,936.7L2377.5,937.2L2372.5,936.4L2367.9,934.5L2364.1,931.5L2362.0,928.5L2361.0,924.5L2361.9,920.5L2364.1,917.5L2369.5,914.6L2376.5,913.9L2383.5,915.7L2388.9,919.5L2391.7,924.5L2391.6,929.5L2388.5,933.8L2382.5,936.7Z" stroke="#0070ff"/><path d="M2381.5,934.7L2373.5,934.6L2366.5,930.7L2363.8,925.5L2364.0,922.5L2365.7,919.5L2370.5,916.5L2375.5,915.9L2381.5,917.1L2386.5,920.3L2389.0,924.5L2389.0,928.5L2386.3,932.5L2381.5,934.7Z" stroke="#00a3ff"/><path d="M2381.5,931.5L2375.5,932.1L2370.5,930.0L2367.5,925.5L2368.7,921.5L2371.5,919.5L2375.5,918.7L2382.5,921.0L2384.8,923.5L2385.5,926.5L2384.3,929.5L2381.5,931.5Z" stroke="#00d6ff"/><path d="M2330.5,984.6L2324.5,985.0L2318.5,983.9L2313.5,981.9L2308.7,978.5L2305.4,974.5L2304.0,970.5L2304.2,966.5L2306.5,962.5L2312.5,958.9L2320.5,958.0L2329.5,960.2L2336.3,964.5L2340.5,970.5L2340.8,976.5L2337.4,981.5L2330.5,984.6Z" stroke="#0000d6"/><path d="M2328.5,982.5L2318.5,981.6L2310.5,976.9L2308.0,973.5L2306.9,969.5L2307.5,966.5L2309.5,963.6L2314.5,960.9L2321.5,960.3L2328.5,962.1L2334.5,966.1L2337.8,971.5L2337.5,976.5L2334.1,980.5L2328.5,982.5Z" stroke="#000aff"/><path d="M2327.5,980.5L2319.5,979.9L2313.3,976.5L2310.8,973.5L2309.8,970.5L2311.4,965.5L2315.5,962.9L2320.5,962.3L2326.5,963.4L2331.7,966.5L2334.7,970.5L2334.9,975.5L2332.5,978.5L2327.5,980.5Z" stroke="#003dff"/><path d="M2325.5,978.6L2319.5,977.8L2314.5,974.5L2312.6,970.5L2314.2,966.5L2317.5,964.8L2322.5,964.5L2326.5,965.6L2330.5,968.5L2332.4,972.5L2331.6,975.5L2329.4,977.5L2325.5,978.6Z" stroke="#0070ff"/><path d="M2325.5,975.8L2321.5,975.7L2317.6,973.5L2316.3,970.5L2317.2,968.5L2319.5,967.2L2322.5,967.1L2327.4,969.5L2328.6,971.5L2328.5,973.5L2325.5,975.8Z" stroke="#00a3ff"/><path d="M2340.5,1015.5L2334.5,1015.1L2328.5,1013.1L2323.5,1010.2L2318.5,1005.6L2315.7,1001.5L2314.1,996.5L2314.3,992.5L2316.8,988.5L2323.5,985.6L2331.5,986.2L2339.5,989.5L2346.5,995.4L2350.5,1002.5L2350.7,1008.5L2346.9,1013.5L2340.5,1015.5Z" stroke="#0000d6"/><path d="M2341.5,1012.6L2336.5,1012.9L2331.5,1011.9L2326.5,1009.5L2321.6,1005.5L2318.7,1001.5L2317.3,997.5L2317.5,993.5L2319.5,990.5L2324.5,988.2L2330.5,988.3L2337.5,990.9L2343.4,995.5L2346.8,1000.5L2347.8,1005.5L2346.4,1009.5L2341.5,1012.6Z" stroke="#000aff"/><path d="M2338.5,1010.6L2330.5,1009.3L2323.6,1004.5L2321.4,1001.5L2320.1,997.5L2320.5,994.5L2321.8,992.5L2326.1,990.5L2331.5,990.8L2336.5,992.7L2341.4,996.5L2344.5,1001.5L2344.8,1005.5L2342.5,1009.1L2338.5,1010.6Z" stroke="#003dff"/><path d="M2338.5,1007.8L2332.5,1007.7L2326.5,1004.3L2323.3,999.5L2323.2,996.5L2324.4,994.5L2326.5,993.2L2330.5,992.9L2334.5,994.1L2338.5,996.7L2341.3,1000.5L2341.9,1003.5L2340.6,1006.5L2338.5,1007.8Z" stroke="#0070ff"/><path d="M2335.5,1004.6L2332.5,1004.5L2329.1,1002.5L2327.3,999.5L2327.7,997.5L2331.5,996.3L2335.9,998.5L2337.7,1002.5L2335.5,1004.6Z" stroke="#00a3ff"/><path d="M2388.5,984.6L2382.5,985.3L2376.5,984.8L2364.5,980.3L2360.5,977.4L2357.3,973.5L2356.0,969.5L2356.8,965.5L2361.5,961.5L2369.5,959.7L2379.5,960.9L2388.5,964.7L2395.0,970.5L2397.0,976.5L2394.6,981.5L2388.5,984.6Z" stroke="#0000d6"/><path d="M2385.5,982.6L2375.5,982.4L2366.0,978.5L2360.4,972.5L2359.7,969.5L2360.6,966.5L2364.5,963.4L2371.5,962.0L2379.5,963.1L2387.0,966.5L2391.4,970.5L2393.3,975.5L2391.5,979.7L2385.5,982.6Z" stroke="#000aff"/><path d="M2383.5,980.5L2375.5,980.3L2368.5,977.4L2363.7,972.5L2363.2,969.5L2364.1,967.5L2367.5,965.1L2372.5,964.2L2378.5,965.0L2384.5,967.6L2388.7,971.5L2389.8,975.5L2388.0,978.5L2383.5,980.5Z" stroke="#003dff"/><path d="M2382.5,977.9L2377.5,978.3L2371.7,976.5L2368.1,973.5L2367.4,969.5L2369.5,967.5L2372.5,966.7L2376.5,966.9L2381.3,968.5L2384.1,970.5L2385.8,973.5L2384.9,976.5L2382.5,977.9Z" stroke="#0070ff"/><path d="M2397.5,1011.6L2391.5,1011.8L2385.5,1010.8L2378.5,1008.1L2373.5,1005.0L2368.9,1000.5L2366.8,996.5L2366.5,992.5L2367.8,989.5L2373.5,985.9L2381.5,985.2L2390.5,987.2L2399.5,992.0L2404.8,997.5L2406.7,1003.5L2404.4,1008.5L2397.5,1011.6Z" stroke="#0000d6"/><path d="M2397.5,1008.7L2392.5,1009.4L2387.5,1009.0L2377.5,1005.0L2371.1,998.5L2370.0,994.5L2370.9,991.5L2374.9,988.5L2381.5,987.6L2388.5,988.8L2395.5,992.0L2400.6,996.5L2402.9,1001.5L2402.1,1005.5L2397.5,1008.7Z" stroke="#000aff"/><path d="M2394.5,1006.8L2386.5,1006.6L2378.5,1003.0L2373.8,997.5L2373.5,994.5L2374.5,992.5L2378.5,990.2L2383.5,989.9L2389.5,991.3L2394.5,994.0L2398.1,997.5L2399.6,1001.5L2398.5,1004.5L2394.5,1006.8Z" stroke="#003dff"/><path d="M2390.5,1004.6L2385.5,1003.9L2380.6,1001.5L2377.5,997.5L2377.8,994.5L2380.5,992.8L2384.5,992.4L2392.4,995.5L2395.1,998.5L2395.6,1001.5L2394.1,1003.5L2390.5,1004.6Z" stroke="#0070ff"/><path d="M2349.5,1069.7L2344.5,1070.1L2337.5,1068.1L2330.5,1064.3L2324.1,1059.5L2318.2,1053.5L2314.2,1047.5L2312.6,1042.5L2313.8,1038.5L2317.5,1036.8L2324.5,1037.8L2333.5,1042.0L2340.9,1047.5L2347.6,1054.5L2351.7,1061.5L2352.2,1066.5L2349.5,1069.7Z" stroke="#0000d6"/><path d="M2346.5,1066.7L2342.5,1067.1L2337.5,1065.8L2325.7,1058.5L2320.8,1053.5L2317.5,1048.5L2316.2,1044.5L2317.0,1041.5L2320.5,1039.8L2325.5,1040.5L2332.5,1043.6L2339.3,1048.5L2345.0,1054.5L2348.0,1059.5L2348.6,1064.5L2346.5,1066.7Z" stroke="#000aff"/><path d="M2343.5,1064.0L2340.5,1064.3L2336.5,1063.3L2327.2,1057.5L2320.6,1049.5L2319.6,1046.5L2320.5,1043.7L2323.5,1042.7L2327.5,1043.4L2337.8,1049.5L2342.6,1054.5L2344.9,1058.5L2345.4,1061.5L2343.5,1064.0Z" stroke="#003dff"/><path d="M2340.5,1060.8L2335.5,1060.5L2328.9,1056.5L2324.0,1050.5L2323.4,1048.5L2324.1,1046.5L2326.5,1045.9L2329.4,1046.5L2336.1,1050.5L2341.0,1056.5L2341.5,1059.5L2340.5,1060.8Z" stroke="#0070ff"/><path d="M2411.5,1076.8L2402.5,1077.0L2389.5,1073.3L2374.5,1065.9L2360.5,1056.8L2352.2,1048.5L2347.5,1040.5L2346.1,1032.5L2348.5,1026.6L2351.5,1024.1L2355.5,1022.7L2365.5,1023.0L2376.5,1027.1L2389.5,1035.9L2404.3,1049.5L2413.3,1061.5L2415.8,1067.5L2416.1,1071.5L2415.0,1074.5L2411.5,1076.8Z" stroke="#0000d6"/><path d="M2405.5,1074.6L2397.5,1073.8L2385.5,1069.8L2372.5,1063.0L2360.5,1054.9L2354.2,1048.5L2349.5,1040.5L2348.3,1033.5L2350.5,1028.1L2353.5,1025.8L2357.5,1024.5L2367.5,1025.2L2378.5,1029.8L2391.5,1039.5L2403.8,1051.5L2411.5,1063.5L2412.5,1068.5L2411.7,1071.5L2409.5,1073.5L2405.5,1074.6Z" stroke="#000aff"/><path d="M2406.5,1071.6L2398.5,1072.2L2387.5,1069.1L2374.5,1062.9L2362.5,1055.1L2355.7,1048.5L2351.4,1041.5L2350.1,1034.5L2351.9,1029.5L2357.5,1026.1L2366.5,1026.2L2376.5,1030.0L2385.5,1036.1L2398.3,1047.5L2406.9,1058.5L2409.6,1066.5L2408.9,1069.5L2406.5,1071.6Z" stroke="#003dff"/><path d="M2401.5,1070.5L2393.5,1069.7L2383.5,1066.3L2371.5,1060.0L2362.1,1053.5L2356.2,1047.5L2352.7,1041.5L2351.5,1035.5L2353.3,1030.5L2355.6,1028.5L2359.5,1027.2L2368.5,1027.8L2377.5,1031.7L2388.5,1039.8L2399.5,1050.5L2406.1,1060.5L2407.1,1064.5L2406.7,1067.5L2404.8,1069.5L2401.5,1070.5Z" stroke="#0070ff"/><path d="M2401.5,1068.5L2394.5,1068.6L2385.5,1066.0L2374.5,1060.7L2363.5,1053.6L2357.4,1047.5L2353.9,1041.5L2352.9,1035.5L2354.4,1031.5L2359.5,1028.4L2367.5,1028.6L2376.5,1032.1L2384.5,1037.7L2395.5,1047.5L2403.0,1057.5L2404.9,1064.5L2403.5,1067.4L2401.5,1068.5Z" stroke="#00a3ff"/><path d="M2400.5,1066.7L2394.5,1067.4L2385.5,1065.0L2374.5,1059.8L2364.5,1053.4L2359.3,1048.5L2355.4,1042.5L2354.0,1036.5L2355.5,1032.3L2360.5,1029.3L2367.5,1029.5L2375.5,1032.4L2383.5,1037.9L2393.3,1046.5L2400.5,1055.5L2403.0,1062.5L2402.5,1064.8L2400.5,1066.7Z" stroke="#00d6ff"/><path d="M2398.5,1065.5L2392.5,1065.9L2384.5,1063.7L2374.5,1058.9L2364.6,1052.5L2359.5,1047.5L2356.4,1042.5L2355.2,1037.5L2356.5,1033.1L2360.5,1030.4L2367.5,1030.3L2374.5,1032.7L2382.5,1038.0L2392.1,1046.5L2399.2,1055.5L2401.2,1061.5L2400.5,1063.9L2398.5,1065.5Z" stroke="#0afff5"/><path d="M2395.5,1064.6L2389.5,1064.3L2382.5,1062.0L2373.5,1057.5L2364.5,1051.6L2359.6,1046.5L2356.9,1041.5L2356.2,1037.5L2357.7,1033.5L2362.5,1031.0L2369.5,1031.6L2376.5,1034.6L2384.5,1040.5L2392.9,1048.5L2398.4,1056.5L2399.3,1061.5L2398.1,1063.5L2395.5,1064.6Z" stroke="#3dffc2"/><path d="M2395.5,1062.9L2390.5,1063.4L2383.5,1061.5L2374.5,1057.3L2365.5,1051.5L2361.3,1047.5L2358.2,1042.5L2357.3,1038.5L2358.4,1034.5L2362.5,1032.0L2368.5,1032.1L2374.5,1034.3L2381.5,1038.9L2390.0,1046.5L2395.6,1053.5L2397.7,1059.5L2397.2,1061.5L2395.5,1062.9Z" stroke="#70ff8f"/><path d="M2393.5,1061.9L2388.5,1062.0L2381.5,1059.9L2365.5,1050.7L2361.4,1046.5L2359.1,1042.5L2358.3,1038.5L2359.5,1034.9L2363.5,1032.8L2368.5,1032.9L2374.5,1035.0L2381.5,1039.8L2389.0,1046.5L2394.4,1053.5L2396.0,1058.5L2395.5,1060.5L2393.5,1061.9Z" stroke="#a3ff5c"/><path d="M2391.5,1060.8L2386.5,1060.6L2380.5,1058.7L2366.3,1050.5L2362.3,1046.5L2360.0,1042.5L2359.3,1038.5L2360.5,1035.5L2364.5,1033.5L2369.5,1033.9L2375.5,1036.3L2381.5,1040.6L2388.9,1047.5L2393.2,1053.5L2394.3,1058.5L2391.5,1060.8Z" stroke="#d6ff29"/><path d="M2389.5,1059.7L2385.5,1059.4L2379.5,1057.4L2366.5,1049.8L2360.9,1042.5L2360.3,1039.5L2361.2,1036.5L2364.5,1034.5L2369.5,1034.6L2375.5,1037.1L2381.5,1041.5L2387.8,1047.5L2391.9,1053.5L2392.6,1057.5L2389.5,1059.7Z" stroke="#fff500"/><path d="M2389.5,1058.0L2385.5,1058.3L2380.5,1057.0L2367.5,1049.8L2364.1,1046.5L2361.8,1042.5L2361.3,1039.5L2362.5,1036.7L2365.5,1035.3L2369.5,1035.4L2374.5,1037.3L2379.2,1040.5L2385.9,1046.5L2389.7,1051.5L2391.0,1055.5L2389.5,1058.0Z" stroke="#ffc200"/><path d="M2387.5,1056.8L2383.5,1056.9L2379.0,1055.5L2367.5,1048.9L2362.8,1042.5L2362.4,1039.5L2363.4,1037.5L2366.5,1036.1L2370.5,1036.4L2379.3,1041.5L2384.7,1046.5L2388.4,1051.5L2389.2,1054.5L2387.5,1056.8Z" stroke="#ff8f00"/><path d="M2385.5,1055.5L2378.5,1054.3L2368.2,1048.5L2364.2,1043.5L2363.5,1040.5L2364.3,1038.5L2366.5,1037.2L2370.5,1037.3L2378.1,1041.5L2386.5,1050.5L2387.3,1053.5L2385.5,1055.5Z" stroke="#ff5c00"/><path d="M2384.5,1053.6L2378.5,1053.3L2369.5,1048.4L2365.3,1043.5L2365.3,1039.5L2367.5,1038.2L2370.5,1038.3L2376.5,1041.3L2383.8,1048.5L2385.2,1051.5L2384.5,1053.6Z" stroke="#ff2900"/><path d="M2382.5,1051.6L2380.5,1052.2L2377.5,1051.6L2370.5,1048.0L2367.1,1044.5L2366.7,1040.5L2370.5,1039.4L2375.2,1041.5L2381.5,1047.5L2382.5,1051.6Z" stroke="#f50000"/><path d="M2378.5,1049.7L2374.5,1048.8L2370.5,1046.4L2368.4,1043.5L2368.8,1041.5L2371.5,1041.1L2375.7,1043.5L2379.2,1047.5L2379.5,1048.6L2378.5,1049.7Z" stroke="#c20000"/><path d="M2462.5,1065.6L2455.5,1065.7L2446.5,1063.9L2435.5,1059.9L2426.5,1055.2L2418.5,1049.5L2412.7,1043.5L2410.2,1038.5L2410.8,1034.5L2413.0,1032.5L2416.5,1031.4L2426.5,1031.7L2438.5,1035.1L2452.5,1041.8L2462.7,1049.5L2468.1,1056.5L2468.9,1059.5L2468.2,1062.5L2466.0,1064.5L2462.5,1065.6Z" stroke="#0000d6"/><path d="M2459.5,1062.6L2453.5,1062.9L2446.5,1061.7L2438.5,1059.0L2429.5,1054.6L2422.2,1049.5L2417.3,1044.5L2415.1,1040.5L2415.5,1036.9L2417.5,1035.1L2420.5,1034.2L2428.5,1034.5L2438.5,1037.2L2449.5,1042.4L2458.0,1048.5L2463.0,1054.5L2463.8,1059.5L2462.2,1061.5L2459.5,1062.6Z" stroke="#000aff"/><path d="M2457.5,1059.5L2453.5,1060.4L2447.5,1059.8L2433.5,1054.7L2422.3,1046.5L2419.7,1042.5L2419.5,1039.5L2422.5,1037.1L2428.5,1036.7L2436.5,1038.5L2445.5,1042.3L2453.5,1047.5L2458.3,1052.5L2459.7,1056.5L2457.5,1059.5Z" stroke="#003dff"/><path d="M2451.5,1057.6L2442.7,1056.5L2433.4,1052.5L2425.8,1046.5L2424.1,1043.5L2424.1,1041.5L2426.5,1039.6L2431.5,1039.5L2438.5,1041.2L2445.6,1044.5L2451.2,1048.5L2454.5,1052.5L2454.9,1055.5L2451.5,1057.6Z" stroke="#0070ff"/><path d="M2448.5,1053.7L2443.5,1054.0L2436.6,1051.5L2431.1,1047.5L2429.9,1045.5L2430.2,1043.5L2435.5,1043.0L2442.4,1045.5L2448.6,1050.5L2449.3,1052.5L2448.5,1053.7Z" stroke="#00a3ff"/><path d="M2406.5,1127.8L2401.5,1127.5L2395.5,1125.3L2381.5,1115.5L2375.0,1108.5L2371.0,1102.5L2369.5,1097.5L2370.5,1094.3L2374.5,1093.0L2381.5,1094.8L2389.5,1099.2L2397.5,1105.5L2404.0,1112.5L2408.4,1119.5L2409.2,1125.5L2406.5,1127.8Z" stroke="#0000d6"/><path d="M2402.5,1124.5L2398.5,1124.0L2393.5,1121.9L2382.0,1113.5L2374.4,1103.5L2373.4,1099.5L2374.2,1097.5L2377.5,1096.4L2383.5,1098.1L2390.5,1102.1L2397.0,1107.5L2402.2,1113.5L2405.0,1118.5L2405.4,1122.5L2402.5,1124.5Z" stroke="#000aff"/><path d="M2400.5,1120.9L2397.5,1121.1L2393.5,1119.7L2384.5,1113.5L2378.1,1105.5L2377.2,1102.5L2377.9,1100.5L2380.5,1099.8L2384.5,1100.8L2394.5,1107.5L2400.9,1115.5L2401.8,1118.5L2400.5,1120.9Z" stroke="#003dff"/><path d="M2396.5,1116.9L2392.5,1116.5L2386.6,1112.5L2382.5,1107.5L2382.1,1104.5L2383.5,1103.8L2386.5,1104.5L2392.4,1108.5L2396.5,1113.5L2397.1,1115.5L2396.5,1116.9Z" stroke="#0070ff"/><path d="M2464.5,1131.7L2457.5,1131.3L2448.5,1128.3L2438.5,1123.2L2428.5,1116.3L2419.7,1108.5L2413.1,1100.5L2410.3,1094.5L2410.8,1089.5L2413.5,1087.6L2416.5,1087.1L2425.5,1088.8L2437.5,1094.1L2450.5,1102.7L2461.2,1112.5L2467.6,1121.5L2468.9,1125.5L2468.7,1128.5L2467.3,1130.5L2464.5,1131.7Z" stroke="#0000d6"/><path d="M2462.5,1127.5L2457.5,1128.3L2449.5,1126.3L2440.5,1122.1L2431.5,1116.2L2423.6,1109.5L2417.7,1102.5L2414.8,1096.5L2415.4,1092.5L2419.5,1090.7L2427.5,1092.0L2437.5,1096.3L2447.5,1102.8L2456.3,1110.5L2462.0,1117.5L2464.3,1123.5L2464.1,1125.5L2462.5,1127.5Z" stroke="#000aff"/><path d="M2458.5,1124.6L2454.5,1125.2L2448.5,1123.8L2441.5,1120.7L2433.4,1115.5L2421.9,1104.5L2419.1,1099.5L2419.2,1095.5L2422.5,1093.8L2428.5,1094.6L2436.5,1097.8L2445.6,1103.5L2453.7,1110.5L2458.5,1116.5L2460.3,1121.5L2458.5,1124.6Z" stroke="#003dff"/><path d="M2454.5,1121.7L2450.5,1121.9L2445.5,1120.5L2433.5,1113.5L2424.7,1104.5L2422.9,1100.5L2423.5,1098.0L2426.5,1096.9L2432.5,1098.1L2445.5,1105.5L2451.1,1110.5L2454.9,1115.5L2456.1,1119.5L2454.5,1121.7Z" stroke="#0070ff"/><path d="M2450.5,1118.0L2448.5,1118.5L2444.5,1117.6L2435.5,1112.6L2429.3,1106.5L2427.8,1103.5L2428.0,1101.5L2430.5,1100.5L2434.5,1101.4L2443.5,1106.4L2450.3,1113.5L2451.3,1116.5L2450.5,1118.0Z" stroke="#00a3ff"/><ellipse cx="628.8" cy="128.7" rx="3.0" ry="3.0" fill="#0000d2" stroke="none"/><ellipse cx="635.9" cy="121.5" rx="3.0" ry="3.0" fill="#0000d2" stroke="none"/><path d="M643.0,112.9L648.3,117.8L650.7,113.3L651.0,108.1L655.0,105.1L653.5,102.5" stroke="#0000d2"/><path d="M619.1,268.0L626.4,267.7L636.5,274.7L636.8,277.5L633.7,279.2L623.6,277.5L619.7,274.7Z" stroke="#0000d2"/><path d="M627.0,286.5L634.8,283.7L641.5,285.4L642.1,289.3L639.9,294.4L632.6,294.9Z" stroke="#0000d2"/><path d="M627.3,425.9L631.0,424.7L633.9,426.4L639.9,432.9L642.3,437.6L642.7,442.7L640.9,443.7L636.2,440.9L632.5,436.7L626.8,429.6Z" stroke="#0000d2"/><ellipse cx="781.9" cy="435.2" rx="3.8" ry="3.8" fill="#0000d2" stroke="none"/><ellipse cx="795.4" cy="441.9" rx="3.5" ry="3.5" fill="#0000d2" stroke="none"/><path d="M811.1,444.7L816.1,447.5L821.7,452.6L822.9,456.5L818.9,457.1L811.6,455.4L810.5,449.8Z" stroke="#0000d2"/><ellipse cx="829.3" cy="458.8" rx="3.8" ry="3.8" fill="#0000d2" stroke="none"/><path d="M1456.8,260.9L1463.6,263.7L1469.7,267.4L1474.8,272.4L1478.7,276.9L1476.5,278.6L1469.2,279.2L1463.6,278.1L1459.1,274.7L1456.8,270.2L1455.7,264.0Z" stroke="#0000d2"/><path d="M1480.4,275.8L1484.3,274.1L1489.4,275.8L1491.1,278.6L1491.6,282.0L1493.9,284.8L1492.2,287.6L1488.3,287.6L1484.9,285.9L1484.3,282.5L1482.6,279.7L1480.4,278.1Z" stroke="#0000d2"/><path d="M1466.9,286.5L1470.3,283.7L1476.5,283.1L1483.2,283.7L1483.8,288.2L1483.8,294.3L1481.5,296.6L1477.0,300.5L1473.1,297.1L1467.5,290.4Z" stroke="#0000d2"/><ellipse cx="1502.6" cy="268.2" rx="3.4" ry="3.4" fill="#0000d2" stroke="none"/><ellipse cx="1516.0" cy="294.3" rx="3.8" ry="3.8" fill="#0000d2" stroke="none"/><path d="M1467.3,374.7L1474.0,372.3L1477.6,375.3L1480.1,380.2L1483.7,385.7L1484.3,391.2L1482.5,395.4L1478.2,393.0L1470.9,385.7L1467.3,378.4Z" stroke="#0000d2"/><path d="M1484.9,400.3L1485.5,397.8L1489.2,399.1L1492.8,403.3L1493.5,407.0L1491.0,407.6" stroke="#0000d2"/><ellipse cx="1516.0" cy="419.4" rx="4.0" ry="3.4" fill="#0000d2" stroke="none"/><path d="M2450.3,477.8L2439.7,466.7L2435.1,463.2L2431.1,456.1L2435.1,451.6L2441.2,454.1L2446.2,460.2L2454.3,467.8L2461.4,473.8L2463.4,478.4L2461.4,481.4" stroke="#0000d2"/><path d="M2461.4,487.4L2467.4,489.5L2469.5,484.4L2467.4,479.4L2462.4,479.4L2460.4,481.4" stroke="#0000d2"/><ellipse cx="2475.5" cy="491.5" rx="3.3" ry="3.3" fill="#0000d2" stroke="none"/><path d="M2438.2,461.7L2441.7,461.7L2440.7,466.2" stroke="#0000d2"/><path d="M2615.8,461.2L2619.8,460.2L2629.9,464.2L2634.0,460.2L2640.0,461.2L2645.1,470.3L2655.2,479.4L2656.2,484.4L2649.1,484.4L2637.0,482.4L2630.9,474.3L2617.8,466.2Z" stroke="#0000d2"/><path d="M2642.0,472.3L2641.5,478.4L2646.1,479.9" stroke="#0000d2"/><path d="M2316.5,257.2L2324.4,255.9L2331.6,260.5L2337.5,265.7L2342.7,271.6L2351.9,273.6L2355.8,277.5L2353.2,280.8L2346.7,280.1L2336.2,278.8L2326.4,276.2L2320.5,271.0L2316.5,261.1Z" stroke="#0000d2"/><path d="M2322.4,261.8L2327.0,260.5L2333.6,265.7L2337.5,271.6L2336.2,274.9L2330.3,274.9L2324.4,270.3L2322.4,265.1Z" stroke="#0000d2"/><path d="M2330.3,286.0L2336.2,282.7L2350.6,282.1L2359.8,284.7L2359.8,288.6L2355.8,289.9L2351.3,291.3L2352.6,299.8L2350.6,306.3L2342.7,306.3L2338.2,303.7L2331.6,292.6Z" stroke="#0000d2"/><path d="M2333.6,287.3L2341.4,286.0L2346.7,290.6L2348.6,297.2L2346.7,301.7L2339.5,300.4L2334.2,290.6Z" stroke="#0000d2"/><ellipse cx="2354.5" cy="284.7" rx="2.5" ry="2.5" fill="#0000d2" stroke="none"/><ellipse cx="2350.6" cy="276.9" rx="2.5" ry="2.5" fill="#0000d2" stroke="none"/><path d="M2352.6,254.6L2357.2,253.9L2362.4,255.9L2370.9,257.9L2374.2,261.8L2377.5,265.7L2385.3,267.0L2388.6,271.0L2386.6,275.5L2378.8,276.2L2368.9,274.9L2359.1,271.6L2351.3,267.7L2351.3,259.8Z" stroke="#0000d2"/><ellipse cx="2358.8" cy="264.7" rx="3.0" ry="3.0" fill="#0000d2" stroke="none"/><ellipse cx="2372.2" cy="269.0" rx="4.5" ry="3.0" fill="#0000d2" stroke="none"/><ellipse cx="2382.7" cy="259.8" rx="3.0" ry="3.0" fill="#0000d2" stroke="none"/><path d="M2364.4,292.6L2368.9,288.6L2378.8,286.7L2391.9,286.0L2398.4,290.6L2399.1,294.5L2392.5,295.8L2392.5,299.8L2394.5,304.4L2387.9,307.0L2382.0,307.6L2376.8,305.0L2368.9,298.5Z" stroke="#0000d2"/><path d="M2383.3,288.6L2386.0,290.6L2386.0,294.5L2382.7,295.8L2380.7,293.2L2381.4,289.9Z" stroke="#0000d2"/><ellipse cx="2374.8" cy="297.2" rx="3.0" ry="3.0" fill="#0000d2" stroke="none"/><ellipse cx="2404.3" cy="302.4" rx="3.0" ry="3.0" fill="#0000d2" stroke="none"/><path d="M2349.5,375.5L2344.4,367.0L2335.2,359.5L2330.1,351.9L2331.8,346.0L2339.4,342.2L2345.3,346.0L2351.1,351.0L2352.8,361.1L2351.1,368.7L2357.0,373.8L2360.4,378.8L2358.7,382.2L2355.4,381.3" stroke="#0000d2"/><path d="M2335.2,350.2L2340.2,347.7L2346.1,350.2L2348.6,356.1L2346.9,362.8L2342.7,362.0L2336.8,356.9L2334.3,352.7Z" stroke="#0000d2"/><path d="M2363.8,378.8L2368.8,377.1L2380.6,378.8L2384.8,383.9L2386.5,388.1L2392.4,392.3L2394.9,399.0L2392.4,402.4L2395.8,407.4L2399.1,411.6L2397.4,415.0L2392.4,414.2L2384.8,407.4L2377.2,399.9L2370.5,390.6L2364.6,382.2Z" stroke="#0000d2"/><ellipse cx="2375.1" cy="385.1" rx="3.5" ry="3.5" fill="#0000d2" stroke="none"/><ellipse cx="2384.0" cy="398.2" rx="3.5" ry="5.5" fill="#0000d2" stroke="none"/><ellipse cx="2404.6" cy="409.5" rx="3.0" ry="3.0" fill="#0000d2" stroke="none"/><path d="M2435.0,101.4L2437.6,101.4L2441.0,99.6L2445.4,97.7L2449.6,99.6L2452.9,101.8L2456.7,100.3L2457.4,96.2L2455.9,91.0L2457.8,86.8L2457.1,82.4L2455.9,80.1" stroke="#0000d2"/><ellipse cx="2449.9" cy="88.3" rx="3.5" ry="2.8" fill="#0000d2" stroke="none"/><path d="M2452.6,89.8L2454.8,88.7" stroke="#0000d2"/><path d="M587.0,873.7L594.2,877.0L601.4,878.3L608.0,877.6L609.9,873.7L614.5,871.7L622.4,867.8L625.6,861.9L630.2,858.6L630.2,851.4L627.6,844.9L622.4,837.7" stroke="#0000d2"/><path d="M590.9,869.8L594.2,866.5L597.5,869.8L604.0,867.1L611.9,865.8L618.4,862.6L621.1,856.7L625.6,854.7L626.3,851.4L622.4,847.5L619.1,840.9" stroke="#0019ff"/><path d="M625.6,835.1L627.6,833.7" stroke="#0000d2"/><path d="M597.5,863.2L600.8,863.9L604.7,859.9L608.6,858.0L612.6,856.7L612.6,854.0L609.3,851.4L606.7,854.0L603.4,857.3L601.4,859.3L598.2,861.9Z" stroke="#004cff"/><path d="M580.9,977.8L584.6,975.4L590.3,974.0L593.1,972.6L597.7,975.9L603.8,978.7L607.1,982.0L604.3,983.9L593.1,983.9L584.6,982.0L580.4,979.6Z" stroke="#0000d2"/><path d="M587.5,990.9L591.2,988.5L597.7,988.1L609.9,988.1L611.3,991.8L608.0,996.5L605.7,998.8L600.5,996.5L594.9,995.1L588.4,993.7Z" stroke="#0000d2"/><path d="M587.3,1093.1L589.7,1092.2L594.4,1095.9L598.1,1098.7L602.8,1102.5L606.1,1104.3L607.9,1109.0L610.7,1116.0L610.3,1118.4L606.1,1115.6L599.0,1109.0L592.0,1102.0L587.8,1095.9Z" stroke="#0000d2"/><path d="M699.7,1098.4L705.2,1094.1L715.5,1092.9L721.6,1097.2L732.6,1100.8L741.7,1103.8L749.6,1109.3L756.9,1112.4L762.9,1118.4L769.6,1129.4L769.0,1138.5L759.9,1142.1L753.8,1139.7L741.7,1135.5L729.5,1127.6L717.4,1120.3L708.2,1112.4L700.3,1103.2Z" stroke="#0000d2"/><path d="M713.1,1103.2L716.7,1102.6L732.6,1104.5L744.7,1107.5L750.8,1113.6L756.9,1116.0L761.1,1121.5L762.9,1128.8L759.9,1135.5L755.7,1136.1L750.8,1132.4L738.6,1128.8L726.5,1121.5L715.5,1112.4L712.5,1108.1Z" stroke="#0019ff"/><ellipse cx="708.8" cy="1102.6" rx="3.5" ry="3.5" fill="#0000d2" stroke="none"/><path d="M721.6,1108.7L726.5,1109.3L732.6,1112.4L733.2,1116.0L729.5,1116.6L723.4,1113.6L721.0,1110.5Z" stroke="#004cff"/><path d="M738.6,1114.2L742.3,1114.8L744.1,1120.3L742.3,1124.5L738.6,1123.9L736.8,1119.0Z" stroke="#004cff"/><ellipse cx="778.8" cy="1138.5" rx="2.2" ry="2.2" fill="#0000d2" stroke="none"/><path d="M1419.3,971.9L1425.1,967.8L1433.3,972.5L1439.1,970.7L1442.6,964.9L1447.9,962.6L1455.4,964.9L1465.3,967.2L1471.2,972.5L1479.9,978.3L1479.3,982.4L1472.3,984.1L1465.3,984.1L1459.5,985.9L1450.8,985.3L1433.3,984.7L1421.6,982.4L1418.7,977.1Z" stroke="#0000d2"/><path d="M1422.8,975.4L1427.5,974.2L1436.2,976.5L1442.6,974.8L1444.9,969.6L1450.8,970.1L1462.4,972.5L1469.4,976.0L1470.0,979.5L1462.4,980.0L1451.9,981.8L1442.0,983.5L1427.5,983.0L1422.8,979.5Z" stroke="#0019ff"/><path d="M1425.7,989.4L1433.3,986.5L1450.8,987.6L1468.2,987.6L1485.7,991.1L1486.9,996.9L1482.8,1004.5L1471.2,1007.4L1462.4,1006.3L1455.4,1001.0L1444.9,998.1L1443.2,1003.3L1434.5,1000.4L1427.5,995.8Z" stroke="#0000d2"/><path d="M1429.2,989.9L1439.1,988.8L1456.6,990.5L1474.1,992.3L1479.3,995.8L1474.1,1000.4L1462.4,1002.8L1450.8,996.9L1442.6,995.8L1435.0,996.9L1429.8,994.6Z" stroke="#0019ff"/><path d="M1458.3,985.3L1461.3,983.5L1468.2,984.7L1465.9,987.6L1460.7,987.6Z" stroke="#0000d2"/><path d="M1504.4,974.8L1514.8,972.5L1529.4,972.5L1535.2,969.0L1541.0,972.5L1542.8,979.5L1543.4,985.9L1549.8,993.4L1554.4,997.5L1552.1,1002.8L1545.7,998.7L1539.9,999.3L1526.5,999.3L1516.6,997.5L1510.8,991.1L1504.9,983.5Z" stroke="#0000d2"/><path d="M1510.2,979.5L1517.7,976.5L1526.5,976.5L1535.2,981.8L1535.8,984.1L1523.6,985.3L1511.9,984.7L1509.6,982.4Z" stroke="#0019ff"/><path d="M1510.8,989.4L1517.7,987.6L1529.4,987.6L1538.1,988.8L1538.1,992.3L1535.2,995.2L1523.6,995.8L1514.8,994.0Z" stroke="#0019ff"/><ellipse cx="1525.0" cy="981.8" rx="3.3" ry="3.3" fill="#004cff" stroke="none"/><ellipse cx="1528.8" cy="990.5" rx="3.3" ry="3.3" fill="#004cff" stroke="none"/><path d="M1426.2,1043.9L1432.5,1040.4L1443.2,1046.6L1445.9,1052.9L1459.3,1060.9L1468.2,1065.4L1482.5,1084.1L1486.1,1090.4L1487.9,1102.0L1482.5,1099.3L1475.4,1095.7L1468.2,1090.4L1459.3,1080.5L1455.7,1076.1L1449.5,1070.7L1435.2,1055.5L1426.2,1048.4Z" stroke="#0000d2"/><path d="M1430.7,1044.8L1437.9,1044.8L1441.4,1050.2L1449.5,1057.3L1461.1,1065.4L1470.0,1072.5L1478.0,1087.7L1477.1,1091.2L1470.0,1085.0L1460.2,1073.4L1450.4,1064.5L1437.9,1054.6L1430.7,1048.4Z" stroke="#0000d2"/><ellipse cx="1459.3" cy="1079.6" rx="2.0" ry="2.0" fill="#0000d2" stroke="none"/><ellipse cx="1462.9" cy="1084.1" rx="2.0" ry="2.0" fill="#0000d2" stroke="none"/><ellipse cx="1468.2" cy="1089.5" rx="2.0" ry="2.0" fill="#0000d2" stroke="none"/><path d="M1522.5,1143.7L1513.2,1132.9L1511.6,1128.2L1516.3,1126.6L1525.6,1134.4L1537.3,1144.5L1541.9,1149.9L1545.0,1153.8L1551.2,1154.6L1554.3,1159.3L1554.3,1164.7L1544.3,1165.5" stroke="#0000d2"/><path d="M1514.8,1131.3L1523.3,1137.5L1533.4,1146.1L1538.0,1151.5L1538.8,1156.9L1532.6,1153.8" stroke="#0000d2"/><path d="M1664.6,1130.5L1667.7,1133.6L1668.5,1139.8L1666.1,1142.2L1663.0,1139.8L1662.3,1134.4Z" stroke="#0000d2"/><path d="M1672.4,1138.3L1675.5,1136.0L1681.7,1140.6L1686.3,1144.5L1687.1,1149.2L1684.0,1149.9L1675.5,1146.8L1672.4,1143.0Z" stroke="#0000d2"/><path d="M1518.1,832.5L1520.2,833.2L1523.7,834.8L1526.0,833.9L1527.2,830.9L1527.9,828.1L1526.0,824.8" stroke="#0000d2"/><ellipse cx="1517.4" cy="838.3" rx="4.0" ry="3.5" fill="#0000d2" stroke="none"/><path d="M2292.4,968.3C2293.4,967.2 2295.4,965.5 2297.0,965.7C2298.7,965.9 2301.2,967.9 2302.3,969.6C2303.4,971.4 2304.0,974.4 2303.6,976.2C2303.1,977.9 2301.4,979.9 2299.6,980.1C2297.9,980.3 2294.5,978.8 2293.1,977.5C2291.7,976.2 2291.2,973.8 2291.1,972.3C2291.0,970.7 2291.5,969.4 2292.4,968.3Z" stroke="#0000d2"/><path d="M2302.3,992.6C2303.1,991.6 2305.8,990.1 2307.5,989.9C2309.3,989.8 2311.2,990.7 2312.7,991.9C2314.3,993.1 2316.0,995.2 2316.7,997.2C2317.3,999.1 2317.3,1002.2 2316.7,1003.7C2316.0,1005.2 2314.3,1006.5 2312.7,1006.3C2311.2,1006.1 2309.3,1004.1 2307.5,1002.4C2305.8,1000.6 2303.1,997.5 2302.3,995.8C2301.4,994.2 2301.4,993.5 2302.3,992.6Z" stroke="#0000d2"/><path d="M2301.8,1027.4C2302.2,1025.9 2303.3,1024.4 2304.7,1023.7C2306.2,1022.9 2308.7,1022.2 2310.6,1022.9C2312.6,1023.7 2315.3,1026.1 2316.5,1028.1C2317.8,1030.1 2318.3,1032.9 2318.0,1034.7C2317.8,1036.6 2315.8,1037.5 2315.1,1039.2C2314.3,1040.9 2314.2,1044.6 2313.6,1045.1C2313.0,1045.6 2312.2,1043.6 2311.4,1042.1C2310.5,1040.6 2309.9,1037.8 2308.4,1036.2C2307.0,1034.6 2303.6,1034.0 2302.5,1032.5C2301.4,1031.1 2301.4,1028.8 2301.8,1027.4Z" stroke="#0000d2"/><path d="M2366.9,1098.4L2365.7,1092.0L2368.6,1087.3L2373.3,1088.5L2377.4,1092.0" stroke="#0000d2"/><path d="M2483.4,1100.1L2486.9,1098.4L2492.7,1101.9L2495.0,1107.1L2492.1,1108.9L2485.7,1105.4Z" stroke="#0000d2"/><path d="M2375.4,865.5L2376.8,867.9L2377.3,870.9L2375.2,873.7L2372.4,873.7L2369.8,871.4" stroke="#0000d2"/><path d="M2425.6,270.0L2431.7,268.1L2439.6,269.0L2445.2,267.2L2452.7,265.3L2457.4,268.1L2462.1,271.4L2464.9,270.4L2467.2,272.3L2464.9,274.6L2463.5,278.4L2461.1,280.2L2452.7,281.2L2443.4,280.2L2434.0,279.3L2427.0,276.5L2424.7,272.8Z" stroke="#0000d2"/><path d="M2431.2,284.9L2434.0,282.6L2441.0,281.6L2452.7,281.2L2459.7,281.2L2462.1,282.6L2469.1,285.4L2470.5,290.1L2469.6,296.1L2466.8,296.1L2463.9,293.8L2459.7,292.9L2452.7,292.4L2443.4,293.3L2436.4,291.5L2431.7,287.7Z" stroke="#0000d2"/><ellipse cx="2436.4" cy="276.5" rx="4.0" ry="3.5" fill="#0000d2" stroke="none"/><ellipse cx="2440.1" cy="285.9" rx="3.5" ry="3.5" fill="#0000d2" stroke="none"/><ellipse cx="2454.6" cy="272.8" rx="3.5" ry="3.0" fill="#0000d2" stroke="none"/><ellipse cx="2464.9" cy="270.9" rx="2.5" ry="2.5" fill="#0000d2" stroke="none"/><ellipse cx="2462.5" cy="289.6" rx="3.0" ry="3.0" fill="#0000d2" stroke="none"/><ellipse cx="2476.1" cy="291.5" rx="3.5" ry="3.5" fill="#0000d2" stroke="none"/><path d="M2437.8,280.2L2452.7,279.8L2454.6,281.6L2452.7,283.1L2438.7,282.6Z" stroke="#0000d2"/></g>
<g transform="translate(474.5,34.5)">
<rect x="0" y="0" width="492" height="493" fill="none" stroke="#000" stroke-width="3"/>
<path d="M164.0,493v-15M328.0,493v-15M0,82.2h15M0,164.3h15M0,246.5h15M0,328.7h15M0,410.8h15" stroke="#000" stroke-width="3" fill="none"/>
<text transform="matrix(0.5381,0,0,0.4896,-13.15,547.32)" font-size="100">0</text>
<text transform="matrix(0.5562,0,0,0.4824,121.19,547.34)" font-size="100">100</text>
<text transform="matrix(0.5423,0,0,0.4896,287.63,547.32)" font-size="100">200</text>
<text transform="matrix(0.5511,0,0,0.4896,450.69,547.32)" font-size="100">300</text>
<text transform="matrix(0.5474,0,0,0.4853,-103.23,13.73)" font-size="100">150</text>
<text transform="matrix(0.5511,0,0,0.4853,-103.76,95.90)" font-size="100">100</text>
<text transform="matrix(0.5556,0,0,0.4925,-76.63,178.05)" font-size="100">50</text>
<text transform="matrix(0.5714,0,0,0.4925,-49.59,260.21)" font-size="100">0</text>
<text transform="matrix(0.5556,0,0,0.4925,-76.63,342.38)" font-size="100">50</text>
<rect x="-115.30" y="328.37" width="32.5" height="2.6" rx="1.2"/>
<text transform="matrix(0.5511,0,0,0.4853,-103.76,424.56)" font-size="100">100</text>
<rect x="-140.80" y="410.53" width="32.5" height="2.6" rx="1.2"/>
<text transform="matrix(0.5474,0,0,0.4853,-103.23,506.73)" font-size="100">150</text>
<rect x="-140.30" y="492.70" width="32.5" height="2.6" rx="1.2"/>
<g transform="translate(0,619.5)"><text transform="matrix(0.6711,0,0,0.4750,163.23,-0.17)" font-size="100" font-style="italic">f</text><text transform="matrix(0.3686,0,0,0.3424,188.18,8.00)" font-size="100">1</text><text transform="matrix(0.7357,0,0,0.7258,210.70,11.17)" font-size="100">/</text><text transform="matrix(0.5525,0,0,0.4812,236.50,0.00)" font-size="100">kHz</text></g>
<g transform="matrix(0,-1,1,0,-198.6,491)"><text transform="matrix(0.6711,0,0,0.4750,163.23,-0.17)" font-size="100" font-style="italic">f</text><text transform="matrix(0.3225,0,0,0.3477,190.21,8.00)" font-size="100">2</text><text transform="matrix(0.7357,0,0,0.7258,210.70,11.17)" font-size="100">/</text><text transform="matrix(0.5525,0,0,0.4812,236.50,0.00)" font-size="100">kHz</text></g>
<text transform="matrix(0.4923,0,0,0.5344,22.53,61.38)" font-size="100">(</text>
<text transform="matrix(0.6333,0,0,0.4562,39.97,60.34)" font-size="100">a</text>
<text transform="matrix(0.4923,0,0,0.5344,70.22,61.38)" font-size="100">)</text>
</g>
<g transform="translate(1364.5,34.5)">
<rect x="0" y="0" width="492" height="493" fill="none" stroke="#000" stroke-width="3"/>
<path d="M164.0,493v-15M328.0,493v-15M0,82.2h15M0,164.3h15M0,246.5h15M0,328.7h15M0,410.8h15" stroke="#000" stroke-width="3" fill="none"/>
<text transform="matrix(0.5381,0,0,0.4896,-13.15,547.32)" font-size="100">0</text>
<text transform="matrix(0.5562,0,0,0.4824,121.19,547.34)" font-size="100">100</text>
<text transform="matrix(0.5423,0,0,0.4896,287.63,547.32)" font-size="100">200</text>
<text transform="matrix(0.5511,0,0,0.4896,450.69,547.32)" font-size="100">300</text>
<text transform="matrix(0.5474,0,0,0.4853,-103.23,13.73)" font-size="100">150</text>
<text transform="matrix(0.5511,0,0,0.4853,-103.76,95.90)" font-size="100">100</text>
<text transform="matrix(0.5556,0,0,0.4925,-76.63,178.05)" font-size="100">50</text>
<text transform="matrix(0.5714,0,0,0.4925,-49.59,260.21)" font-size="100">0</text>
<text transform="matrix(0.5556,0,0,0.4925,-76.63,342.38)" font-size="100">50</text>
<rect x="-115.30" y="328.37" width="32.5" height="2.6" rx="1.2"/>
<text transform="matrix(0.5511,0,0,0.4853,-103.76,424.56)" font-size="100">100</text>
<rect x="-140.80" y="410.53" width="32.5" height="2.6" rx="1.2"/>
<text transform="matrix(0.5474,0,0,0.4853,-103.23,506.73)" font-size="100">150</text>
<rect x="-140.30" y="492.70" width="32.5" height="2.6" rx="1.2"/>
<g transform="translate(0,619.5)"><text transform="matrix(0.6711,0,0,0.4750,163.23,-0.17)" font-size="100" font-style="italic">f</text><text transform="matrix(0.3686,0,0,0.3424,188.18,8.00)" font-size="100">1</text><text transform="matrix(0.7357,0,0,0.7258,210.70,11.17)" font-size="100">/</text><text transform="matrix(0.5525,0,0,0.4812,236.50,0.00)" font-size="100">kHz</text></g>
<g transform="matrix(0,-1,1,0,-198.6,491)"><text transform="matrix(0.6711,0,0,0.4750,163.23,-0.17)" font-size="100" font-style="italic">f</text><text transform="matrix(0.3225,0,0,0.3477,190.21,8.00)" font-size="100">2</text><text transform="matrix(0.7357,0,0,0.7258,210.70,11.17)" font-size="100">/</text><text transform="matrix(0.5525,0,0,0.4812,236.50,0.00)" font-size="100">kHz</text></g>
<text transform="matrix(0.4923,0,0,0.5344,22.53,61.38)" font-size="100">(</text>
<text transform="matrix(0.5630,0,0,0.4821,42.50,60.32)" font-size="100">b</text>
<text transform="matrix(0.4923,0,0,0.5344,73.22,61.38)" font-size="100">)</text>
</g>
<g transform="translate(2254.5,34.5)">
<rect x="0" y="0" width="492" height="493" fill="none" stroke="#000" stroke-width="3"/>
<path d="M164.0,493v-15M328.0,493v-15M0,82.2h15M0,164.3h15M0,246.5h15M0,328.7h15M0,410.8h15" stroke="#000" stroke-width="3" fill="none"/>
<text transform="matrix(0.5381,0,0,0.4896,-13.15,547.32)" font-size="100">0</text>
<text transform="matrix(0.5562,0,0,0.4824,121.19,547.34)" font-size="100">100</text>
<text transform="matrix(0.5423,0,0,0.4896,287.63,547.32)" font-size="100">200</text>
<text transform="matrix(0.5511,0,0,0.4896,450.69,547.32)" font-size="100">300</text>
<text transform="matrix(0.5474,0,0,0.4853,-103.23,13.73)" font-size="100">150</text>
<text transform="matrix(0.5511,0,0,0.4853,-103.76,95.90)" font-size="100">100</text>
<text transform="matrix(0.5556,0,0,0.4925,-76.63,178.05)" font-size="100">50</text>
<text transform="matrix(0.5714,0,0,0.4925,-49.59,260.21)" font-size="100">0</text>
<text transform="matrix(0.5556,0,0,0.4925,-76.63,342.38)" font-size="100">50</text>
<rect x="-115.30" y="328.37" width="32.5" height="2.6" rx="1.2"/>
<text transform="matrix(0.5511,0,0,0.4853,-103.76,424.56)" font-size="100">100</text>
<rect x="-140.80" y="410.53" width="32.5" height="2.6" rx="1.2"/>
<text transform="matrix(0.5474,0,0,0.4853,-103.23,506.73)" font-size="100">150</text>
<rect x="-140.30" y="492.70" width="32.5" height="2.6" rx="1.2"/>
<g transform="translate(0,619.5)"><text transform="matrix(0.6711,0,0,0.4750,163.23,-0.17)" font-size="100" font-style="italic">f</text><text transform="matrix(0.3686,0,0,0.3424,188.18,8.00)" font-size="100">1</text><text transform="matrix(0.7357,0,0,0.7258,210.70,11.17)" font-size="100">/</text><text transform="matrix(0.5525,0,0,0.4812,236.50,0.00)" font-size="100">kHz</text></g>
<g transform="matrix(0,-1,1,0,-198.6,491)"><text transform="matrix(0.6711,0,0,0.4750,163.23,-0.17)" font-size="100" font-style="italic">f</text><text transform="matrix(0.3225,0,0,0.3477,190.21,8.00)" font-size="100">2</text><text transform="matrix(0.7357,0,0,0.7258,210.70,11.17)" font-size="100">/</text><text transform="matrix(0.5525,0,0,0.4812,236.50,0.00)" font-size="100">kHz</text></g>
<text transform="matrix(0.4923,0,0,0.5344,22.53,61.38)" font-size="100">(</text>
<text transform="matrix(0.5405,0,0,0.4562,41.34,60.34)" font-size="100">c</text>
<text transform="matrix(0.4923,0,0,0.5344,66.92,61.38)" font-size="100">)</text>
</g>
<g transform="translate(474.5,739.5)">
<rect x="0" y="0" width="492" height="493" fill="none" stroke="#000" stroke-width="3"/>
<path d="M164.0,493v-15M328.0,493v-15M0,82.2h15M0,164.3h15M0,246.5h15M0,328.7h15M0,410.8h15" stroke="#000" stroke-width="3" fill="none"/>
<text transform="matrix(0.5381,0,0,0.4896,-13.15,547.32)" font-size="100">0</text>
<text transform="matrix(0.5562,0,0,0.4824,121.19,547.34)" font-size="100">100</text>
<text transform="matrix(0.5423,0,0,0.4896,287.63,547.32)" font-size="100">200</text>
<text transform="matrix(0.5511,0,0,0.4896,450.69,547.32)" font-size="100">300</text>
<text transform="matrix(0.5474,0,0,0.4853,-103.23,13.73)" font-size="100">150</text>
<text transform="matrix(0.5511,0,0,0.4853,-103.76,95.90)" font-size="100">100</text>
<text transform="matrix(0.5556,0,0,0.4925,-76.63,178.05)" font-size="100">50</text>
<text transform="matrix(0.5714,0,0,0.4925,-49.59,260.21)" font-size="100">0</text>
<text transform="matrix(0.5556,0,0,0.4925,-76.63,342.38)" font-size="100">50</text>
<rect x="-115.30" y="328.37" width="32.5" height="2.6" rx="1.2"/>
<text transform="matrix(0.5511,0,0,0.4853,-103.76,424.56)" font-size="100">100</text>
<rect x="-140.80" y="410.53" width="32.5" height="2.6" rx="1.2"/>
<text transform="matrix(0.5474,0,0,0.4853,-103.23,506.73)" font-size="100">150</text>
<rect x="-140.30" y="492.70" width="32.5" height="2.6" rx="1.2"/>
<g transform="translate(0,619.5)"><text transform="matrix(0.6711,0,0,0.4750,163.23,-0.17)" font-size="100" font-style="italic">f</text><text transform="matrix(0.3686,0,0,0.3424,188.18,8.00)" font-size="100">1</text><text transform="matrix(0.7357,0,0,0.7258,210.70,11.17)" font-size="100">/</text><text transform="matrix(0.5525,0,0,0.4812,236.50,0.00)" font-size="100">kHz</text></g>
<g transform="matrix(0,-1,1,0,-198.6,491)"><text transform="matrix(0.6711,0,0,0.4750,163.23,-0.17)" font-size="100" font-style="italic">f</text><text transform="matrix(0.3225,0,0,0.3477,190.21,8.00)" font-size="100">2</text><text transform="matrix(0.7357,0,0,0.7258,210.70,11.17)" font-size="100">/</text><text transform="matrix(0.5525,0,0,0.4812,236.50,0.00)" font-size="100">kHz</text></g>
<text transform="matrix(0.4923,0,0,0.5344,22.53,61.38)" font-size="100">(</text>
<text transform="matrix(0.5756,0,0,0.4821,40.20,60.32)" font-size="100">d</text>
<text transform="matrix(0.4923,0,0,0.5344,72.92,61.38)" font-size="100">)</text>
</g>
<g transform="translate(1364.5,739.5)">
<rect x="0" y="0" width="492" height="493" fill="none" stroke="#000" stroke-width="3"/>
<path d="M164.0,493v-15M328.0,493v-15M0,82.2h15M0,164.3h15M0,246.5h15M0,328.7h15M0,410.8h15" stroke="#000" stroke-width="3" fill="none"/>
<text transform="matrix(0.5381,0,0,0.4896,-13.15,547.32)" font-size="100">0</text>
<text transform="matrix(0.5562,0,0,0.4824,121.19,547.34)" font-size="100">100</text>
<text transform="matrix(0.5423,0,0,0.4896,287.63,547.32)" font-size="100">200</text>
<text transform="matrix(0.5511,0,0,0.4896,450.69,547.32)" font-size="100">300</text>
<text transform="matrix(0.5474,0,0,0.4853,-103.23,13.73)" font-size="100">150</text>
<text transform="matrix(0.5511,0,0,0.4853,-103.76,95.90)" font-size="100">100</text>
<text transform="matrix(0.5556,0,0,0.4925,-76.63,178.05)" font-size="100">50</text>
<text transform="matrix(0.5714,0,0,0.4925,-49.59,260.21)" font-size="100">0</text>
<text transform="matrix(0.5556,0,0,0.4925,-76.63,342.38)" font-size="100">50</text>
<rect x="-115.30" y="328.37" width="32.5" height="2.6" rx="1.2"/>
<text transform="matrix(0.5511,0,0,0.4853,-103.76,424.56)" font-size="100">100</text>
<rect x="-140.80" y="410.53" width="32.5" height="2.6" rx="1.2"/>
<text transform="matrix(0.5474,0,0,0.4853,-103.23,506.73)" font-size="100">150</text>
<rect x="-140.30" y="492.70" width="32.5" height="2.6" rx="1.2"/>
<g transform="translate(0,619.5)"><text transform="matrix(0.6711,0,0,0.4750,163.23,-0.17)" font-size="100" font-style="italic">f</text><text transform="matrix(0.3686,0,0,0.3424,188.18,8.00)" font-size="100">1</text><text transform="matrix(0.7357,0,0,0.7258,210.70,11.17)" font-size="100">/</text><text transform="matrix(0.5525,0,0,0.4812,236.50,0.00)" font-size="100">kHz</text></g>
<g transform="matrix(0,-1,1,0,-198.6,491)"><text transform="matrix(0.6711,0,0,0.4750,163.23,-0.17)" font-size="100" font-style="italic">f</text><text transform="matrix(0.3225,0,0,0.3477,190.21,8.00)" font-size="100">2</text><text transform="matrix(0.7357,0,0,0.7258,210.70,11.17)" font-size="100">/</text><text transform="matrix(0.5525,0,0,0.4812,236.50,0.00)" font-size="100">kHz</text></g>
<text transform="matrix(0.4923,0,0,0.5344,22.53,61.38)" font-size="100">(</text>
<text transform="matrix(0.5595,0,0,0.4562,39.96,60.34)" font-size="100">e</text>
<text transform="matrix(0.4923,0,0,0.5344,66.92,61.38)" font-size="100">)</text>
</g>
<g transform="translate(2254.5,739.5)">
<rect x="0" y="0" width="492" height="493" fill="none" stroke="#000" stroke-width="3"/>
<path d="M164.0,493v-15M328.0,493v-15M0,82.2h15M0,164.3h15M0,246.5h15M0,328.7h15M0,410.8h15" stroke="#000" stroke-width="3" fill="none"/>
<text transform="matrix(0.5381,0,0,0.4896,-13.15,547.32)" font-size="100">0</text>
<text transform="matrix(0.5562,0,0,0.4824,121.19,547.34)" font-size="100">100</text>
<text transform="matrix(0.5423,0,0,0.4896,287.63,547.32)" font-size="100">200</text>
<text transform="matrix(0.5511,0,0,0.4896,450.69,547.32)" font-size="100">300</text>
<text transform="matrix(0.5474,0,0,0.4853,-103.23,13.73)" font-size="100">150</text>
<text transform="matrix(0.5511,0,0,0.4853,-103.76,95.90)" font-size="100">100</text>
<text transform="matrix(0.5556,0,0,0.4925,-76.63,178.05)" font-size="100">50</text>
<text transform="matrix(0.5714,0,0,0.4925,-49.59,260.21)" font-size="100">0</text>
<text transform="matrix(0.5556,0,0,0.4925,-76.63,342.38)" font-size="100">50</text>
<rect x="-115.30" y="328.37" width="32.5" height="2.6" rx="1.2"/>
<text transform="matrix(0.5511,0,0,0.4853,-103.76,424.56)" font-size="100">100</text>
<rect x="-140.80" y="410.53" width="32.5" height="2.6" rx="1.2"/>
<text transform="matrix(0.5474,0,0,0.4853,-103.23,506.73)" font-size="100">150</text>
<rect x="-140.30" y="492.70" width="32.5" height="2.6" rx="1.2"/>
<g transform="translate(0,619.5)"><text transform="matrix(0.6711,0,0,0.4750,163.23,-0.17)" font-size="100" font-style="italic">f</text><text transform="matrix(0.3686,0,0,0.3424,188.18,8.00)" font-size="100">1</text><text transform="matrix(0.7357,0,0,0.7258,210.70,11.17)" font-size="100">/</text><text transform="matrix(0.5525,0,0,0.4812,236.50,0.00)" font-size="100">kHz</text></g>
<g transform="matrix(0,-1,1,0,-198.6,491)"><text transform="matrix(0.6711,0,0,0.4750,163.23,-0.17)" font-size="100" font-style="italic">f</text><text transform="matrix(0.3225,0,0,0.3477,190.21,8.00)" font-size="100">2</text><text transform="matrix(0.7357,0,0,0.7258,210.70,11.17)" font-size="100">/</text><text transform="matrix(0.5525,0,0,0.4812,236.50,0.00)" font-size="100">kHz</text></g>
<text transform="matrix(0.4923,0,0,0.5344,22.53,61.38)" font-size="100">(</text>
<text transform="matrix(0.5667,0,0,0.4871,41.80,60.99)" font-size="100">f</text>
<text transform="matrix(0.4923,0,0,0.5344,64.12,61.38)" font-size="100">)</text>
</g>
<rect x="2866.5" y="359.5" width="40" height="669" fill="url(#jet)" stroke="#000" stroke-width="3"/>
<path d="M2908.0,359.5h14M2908.0,426.4h14M2908.0,493.3h14M2908.0,560.2h14M2908.0,627.1h14M2908.0,694.0h14M2908.0,760.9h14M2908.0,827.8h14M2908.0,894.7h14M2908.0,961.6h14M2908.0,1028.5h14" stroke="#000" stroke-width="3" fill="none"/>
<text transform="matrix(0.5705,0,0,0.4853,2938.87,373.23)" font-size="100">1.0</text>
<text transform="matrix(0.5641,0,0,0.4925,2938.94,440.11)" font-size="100">0.9</text>
<text transform="matrix(0.5641,0,0,0.4925,2938.94,507.01)" font-size="100">0.8</text>
<text transform="matrix(0.5593,0,0,0.4925,2938.96,573.91)" font-size="100">0.7</text>
<text transform="matrix(0.5593,0,0,0.4925,2938.96,640.81)" font-size="100">0.6</text>
<text transform="matrix(0.5641,0,0,0.4925,2938.94,707.71)" font-size="100">0.5</text>
<text transform="matrix(0.5546,0,0,0.4925,2938.98,774.61)" font-size="100">0.4</text>
<text transform="matrix(0.5641,0,0,0.4925,2938.94,841.51)" font-size="100">0.3</text>
<text transform="matrix(0.5739,0,0,0.4925,2938.90,908.41)" font-size="100">0.2</text>
<text transform="matrix(0.5739,0,0,0.4853,2938.90,975.33)" font-size="100">0.1</text>
<text transform="matrix(0.5405,0,0,0.4925,2939.04,1042.21)" font-size="100">0</text>
<g transform="matrix(0,-1,1,0,3091.3,787.7)"><text transform="matrix(0.4535,0,0,0.4857,-1.81,-0.49)" font-size="100" font-style="italic">b</text><text transform="matrix(0.3850,0,0,0.3569,21.06,-14.40)" font-size="100">2</text><text transform="matrix(0.4923,0,0,0.5367,44.33,0.53)" font-size="100">(</text><text transform="matrix(0.6500,0,0,0.4804,65.15,-0.39)" font-size="100" font-style="italic">f</text><text transform="matrix(0.3286,0,0,0.3424,90.14,7.20)" font-size="100">1</text><text transform="matrix(0.4067,0,0,0.5960,112.27,-0.24)" font-size="100">,</text><text transform="matrix(0.6632,0,0,0.4804,126.54,-0.39)" font-size="100" font-style="italic">f</text><text transform="matrix(0.3725,0,0,0.3646,151.51,7.70)" font-size="100">2</text><text transform="matrix(0.4962,0,0,0.5367,172.51,0.53)" font-size="100">)</text></g>
</svg></body></html>
